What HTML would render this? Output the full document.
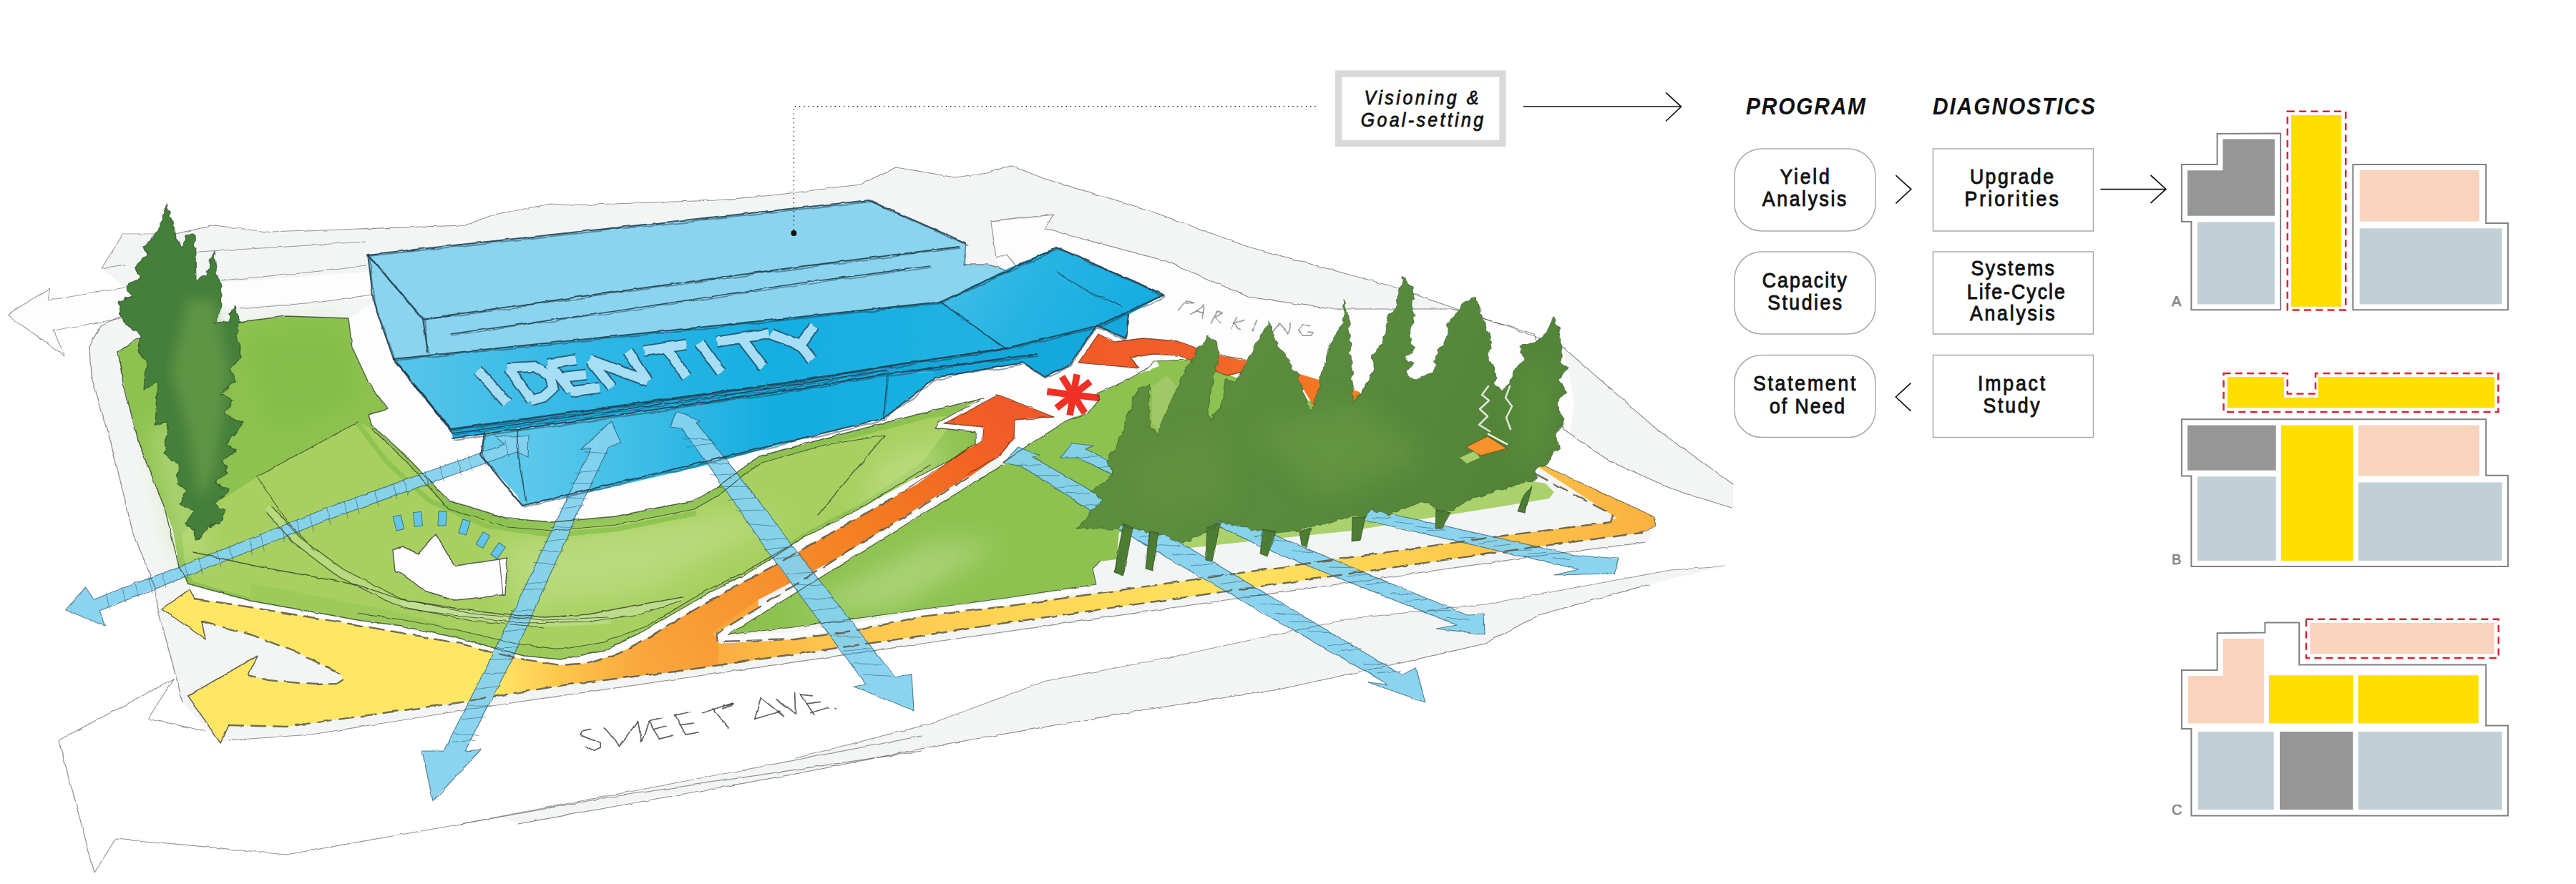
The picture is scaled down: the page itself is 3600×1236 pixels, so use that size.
<!DOCTYPE html>
<html><head><meta charset="utf-8">
<style>
html,body{margin:0;padding:0;background:#fff;}
body{width:3600px;height:1236px;overflow:hidden;font-family:"Liberation Sans",sans-serif;}
svg{display:block;position:absolute;left:0;top:0;}
text{font-family:"Liberation Sans",sans-serif;}
.lb{font-size:29px;fill:#111;stroke:#111;stroke-width:0.9;}
.hd{font-size:34px;font-weight:bold;font-style:italic;fill:#111;}
.vg{font-size:27px;font-style:italic;fill:#111;stroke:#111;stroke-width:0.8;}
.ab{font-size:20px;fill:#868686;stroke:#868686;stroke-width:0.7;}
</style></head>
<body>
<svg width="3600" height="1236" viewBox="0 0 3600 1236">
<defs>

<filter id="wob" x="-2%" y="-2%" width="104%" height="104%"><feTurbulence type="fractalNoise" baseFrequency="0.035" numOctaves="2" seed="3" result="n"/><feDisplacementMap in="SourceGraphic" in2="n" scale="5" xChannelSelector="R" yChannelSelector="G"/></filter>
<filter id="wob2" x="-2%" y="-2%" width="104%" height="104%"><feTurbulence type="fractalNoise" baseFrequency="0.06" numOctaves="2" seed="8" result="n"/><feDisplacementMap in="SourceGraphic" in2="n" scale="3.5" xChannelSelector="R" yChannelSelector="G"/></filter>
<filter id="wobT" x="-2%" y="-2%" width="104%" height="104%"><feTurbulence type="fractalNoise" baseFrequency="0.09" numOctaves="2" seed="5" result="n"/><feDisplacementMap in="SourceGraphic" in2="n" scale="9" xChannelSelector="R" yChannelSelector="G"/></filter>
<filter id="wob3" x="-2%" y="-2%" width="104%" height="104%"><feTurbulence type="fractalNoise" baseFrequency="0.03" numOctaves="2" seed="21" result="n"/><feDisplacementMap in="SourceGraphic" in2="n" scale="7" xChannelSelector="R" yChannelSelector="G"/></filter>
<filter id="soft"><feGaussianBlur stdDeviation="18"/></filter>
<filter id="soft2"><feGaussianBlur stdDeviation="8"/></filter>
<linearGradient id="gRoad" gradientUnits="userSpaceOnUse" x1="690" y1="0" x2="900" y2="0"><stop offset="0" stop-color="#ffe766"/><stop offset="0.45" stop-color="#fdc64b"/><stop offset="1" stop-color="#f9a63c"/></linearGradient>
<linearGradient id="gDiag" gradientUnits="userSpaceOnUse" x1="900" y1="920" x2="1400" y2="560"><stop offset="0" stop-color="#f9a63c"/><stop offset="0.3" stop-color="#f7922f"/><stop offset="0.6" stop-color="#f47c22"/><stop offset="0.85" stop-color="#f26522"/><stop offset="1" stop-color="#f0592a"/></linearGradient>
<linearGradient id="gRed2" gradientUnits="userSpaceOnUse" x1="1500" y1="0" x2="1920" y2="0"><stop offset="0" stop-color="#f15a29"/><stop offset="0.4" stop-color="#f1602a"/><stop offset="1" stop-color="#f58220"/></linearGradient>
<linearGradient id="gBand" gradientUnits="userSpaceOnUse" x1="1000" y1="0" x2="2320" y2="0"><stop offset="0" stop-color="#fbad3f"/><stop offset="0.1" stop-color="#fdc24a"/><stop offset="0.3" stop-color="#fed455"/><stop offset="0.55" stop-color="#ffe360"/><stop offset="0.8" stop-color="#fdc84c"/><stop offset="1" stop-color="#fbb040"/></linearGradient>
<linearGradient id="gCan" gradientUnits="userSpaceOnUse" x1="550" y1="0" x2="1320" y2="0"><stop offset="0" stop-color="#58c5ea"/><stop offset="0.35" stop-color="#30b8e6"/><stop offset="0.7" stop-color="#16aee1"/><stop offset="1" stop-color="#1eb1e2"/></linearGradient>
<linearGradient id="gWall" gradientUnits="userSpaceOnUse" x1="670" y1="0" x2="1300" y2="0"><stop offset="0" stop-color="#68ccec"/><stop offset="0.3" stop-color="#45c0e8"/><stop offset="0.65" stop-color="#15ade0"/><stop offset="1" stop-color="#18afe1"/></linearGradient>
<linearGradient id="gWing" gradientUnits="userSpaceOnUse" x1="1320" y1="330" x2="1560" y2="480"><stop offset="0" stop-color="#48c0e8"/><stop offset="0.5" stop-color="#27b4e3"/><stop offset="1" stop-color="#17ade0"/></linearGradient>
<linearGradient id="gTree" gradientUnits="userSpaceOnUse" x1="1500" y1="420" x2="2200" y2="760"><stop offset="0" stop-color="#5f8f3f"/><stop offset="0.5" stop-color="#598b3c"/><stop offset="1" stop-color="#4f8137"/></linearGradient>

</defs>
<rect width="3600" height="1236" fill="#fff"/>
<g id="sketch">
<path d="M170.0 330.0 L245.0 327.0 L300.0 315.0 L380.0 325.0 L500.0 320.0 L650.0 315.0 L690.0 300.0 L770.0 285.0 L800.0 287.0 L1000.0 280.0 L1080.0 273.0 L1202.0 258.0 L1252.0 234.0 L1334.0 248.0 L1380.0 242.0 L1412.0 231.0 L1460.0 250.0 L1600.0 292.0 L1744.0 345.0 L1944.0 400.0 L2144.0 470.0 L2184.0 485.0 L2315.0 600.0 L2422.0 677.0 L2422.0 710.0 L2340.0 685.0 L2250.0 645.0 L2185.0 600.0 L2165.0 610.0 L2149.0 647.0 L2311.0 722.0 L2314.0 735.0 L2300.0 760.0 L2144.0 780.0 L1762.0 834.0 L1412.0 884.0 L1288.0 901.0 L944.0 951.0 L689.0 986.0 L435.0 1027.0 L320.0 1035.0 L308.0 1039.0 L255.0 982.0 L245.0 942.0 L222.0 857.0 L215.0 817.0 L185.0 742.0 L170.0 680.0 L150.0 600.0 L127.0 525.0 L125.0 485.0 L140.0 455.0 L175.0 440.0 L175.0 402.0 L142.0 375.0Z" fill="#f3f5f4" />
<path d="M1112.0 1060.0 L1300.0 1012.0 L1462.0 952.0 L1612.0 924.0 L1887.0 865.0 L2075.0 845.0 L2335.0 797.0 L2410.0 792.0 L2305.0 817.0 L2150.0 860.0 L2075.0 900.0 L1957.0 927.0 L1787.0 964.0 L1602.0 992.0 L1312.0 1042.0 L1112.0 1082.0 L900.0 1120.0Z" fill="#f3f5f4" />
<path d="M724.0 1152.0 L1288.0 1042.0 L1288.0 1030.0 L700.0 1142.0Z" fill="#f3f5f4" />
<path d="M1385.0 310.0 L1472.0 300.0 L1460.0 320.0 L1630.0 365.0 L1744.0 415.0 L1860.0 432.0 L2029.0 432.0 L2144.0 467.0 L2184.0 485.0 L2200.0 560.0 L2190.0 640.0 L2149.0 647.0 L2100.0 640.0 L1500.0 600.0 L1462.0 545.0 L1392.0 360.0Z" fill="#fdfdfd" />
<path d="M175.0 402.0 L340.0 393.0 L517.0 380.0 L520.0 417.0 L340.0 428.0 L172.0 445.0Z" fill="#fdfdfd" />
<path d="M10.0 440.0 L70.0 403.0 L67.0 420.0 L175.0 402.0 L170.0 445.0 L75.0 462.0 L90.0 497.0Z" fill="#fdfdfd" />
<path d="M165.0 492.0 L190.0 475.0 L335.0 450.0 L400.0 442.0 L487.0 445.0 L492.0 485.0 L515.0 535.0 L542.0 572.0 L515.0 580.0 L520.0 595.0 L565.0 635.0 L627.0 700.0 L710.0 725.0 L772.0 730.0 L860.0 722.0 L970.0 700.0 L1000.0 683.0 L1022.0 666.0 L1061.0 638.0 L1153.0 613.0 L1230.0 593.0 L1300.0 575.0 L1375.0 556.0 L1312.0 590.0 L1307.0 598.0 L1363.0 604.0 L1363.0 621.0 L1335.0 640.0 L1280.0 668.0 L1204.0 715.0 L1122.0 757.0 L1075.0 783.0 L1040.0 804.0 L1007.0 820.0 L946.0 855.0 L895.0 885.0 L844.0 910.0 L783.0 922.0 L732.0 917.0 L691.0 906.0 L640.0 892.0 L560.0 875.0 L500.0 867.0 L350.0 840.0 L262.0 816.0 L250.0 792.0 L242.0 742.0 L230.0 710.0 L194.0 620.0 L172.0 535.0Z" fill="#8dc250" />
<path d="M359.0 667.0 L500.0 590.0 L520.0 600.0 L565.0 640.0 L627.0 712.0 L710.0 737.0 L772.0 742.0 L860.0 734.0 L970.0 712.0 L1005.0 692.0 L1030.0 672.0 L1061.0 648.0 L1153.0 622.0 L1236.0 601.0 L1300.0 584.0 L1340.0 580.0 L1290.0 645.0 L1204.0 704.0 L1122.0 746.0 L1075.0 778.0 L1040.0 800.0 L1007.0 816.0 L946.0 851.0 L895.0 881.0 L844.0 906.0 L783.0 918.0 L732.0 913.0 L691.0 902.0 L640.0 888.0 L560.0 871.0 L500.0 863.0 L350.0 836.0 L270.0 813.0 L258.0 790.0 L255.0 745.0 L300.0 705.0Z" fill="#a7d061" />
<path d="M350.0 815.0 L500.0 845.0 L560.0 856.0 L640.0 881.0 L721.0 900.0 L783.0 908.0 L844.0 898.0 L905.0 875.0 L986.0 826.0 L1040.0 800.0 L1075.0 780.0 L1075.0 783.0 L1040.0 804.0 L1007.0 820.0 L946.0 855.0 L895.0 885.0 L844.0 910.0 L783.0 922.0 L732.0 917.0 L691.0 906.0 L640.0 892.0 L560.0 875.0 L500.0 867.0 L350.0 840.0Z" fill="#9ccb5b" />
<path d="M560.0 840.0 L640.0 851.0 L701.0 859.0 L762.0 863.0 L823.0 859.0 L884.0 847.0 L954.0 835.0 L954.0 839.0 L895.0 859.0 L823.0 869.0 L732.0 871.0 L640.0 861.0 L560.0 850.0Z" fill="#bcdc8c" />
<path d="M1402.0 647.0 L1433.0 625.0 L1493.0 587.0 L1500.0 583.0 L1520.0 578.0 L1537.0 558.0 L1533.0 550.0 L1557.0 540.0 L1597.0 520.0 L1608.0 518.0 L1613.0 505.0 L1660.0 503.0 L1760.0 540.0 L2100.0 640.0 L2110.0 700.0 L1700.0 740.0 L1540.0 745.0 L1505.0 739.0 L1500.0 720.0Z" fill="#8dc250" />
<path d="M1640.0 755.0 L1655.0 767.0 L1755.0 756.0 L1890.0 742.0 L1980.0 727.0 L2124.0 704.0 L2165.0 697.0 L2172.0 688.0 L2160.0 676.0 L2124.0 670.0 L2060.0 690.0 L1900.0 715.0 L1700.0 725.0Z" fill="#aad26c" />
<path d="M1018.0 887.0 L1141.0 811.0 L1204.0 772.0 L1294.0 716.0 L1340.0 688.0 L1400.0 650.0 L1420.0 648.0 L1500.0 700.0 L1505.0 739.0 L1564.0 740.0 L1561.0 782.0 L1537.0 785.0 L1527.0 795.0 L1532.0 817.0 L1480.0 825.0 L1400.0 837.0 L1288.0 852.0 L1188.0 866.0 L1100.0 878.0Z" fill="#8dc250" />
<g filter="url(#soft)" opacity="0.6">
<path d="M700.0 760.0 L1000.0 720.0 L1100.0 720.0 L900.0 830.0 L720.0 850.0Z" fill="#c4e18d" />
<path d="M210.0 600.0 L250.0 590.0 L290.0 780.0 L250.0 780.0Z" fill="#c5e28f" />
<path d="M1100.0 860.0 L1300.0 760.0 L1400.0 760.0 L1250.0 850.0Z" fill="#bfde90" />
<path d="M340.0 470.0 L480.0 460.0 L500.0 560.0 L380.0 600.0Z" fill="#7fba47" />
<path d="M1230.0 640.0 L1330.0 610.0 L1300.0 680.0 L1200.0 720.0Z" fill="#c4e18d" />
</g>
<path d="M376.0 712.0 L415.0 756.0 L476.0 801.0 L557.0 842.0 L659.0 863.0 L760.0 872.0 L850.0 868.0" fill="none" stroke="#c6e39a" stroke-width="9" stroke-opacity="0.5" stroke-linejoin="round" stroke-linecap="round" />
<path d="M500.0 592.0 L540.0 645.0 L600.0 700.0 L680.0 735.0 L772.0 748.0 L860.0 740.0 L970.0 718.0" fill="none" stroke="#8dc250" stroke-width="7" stroke-opacity="0.9" stroke-linejoin="round" stroke-linecap="round" />
<path d="M487.0 445.0 L522.0 422.0 L550.0 502.0 L600.0 560.0 L677.0 602.0 L672.0 637.0 L722.0 692.0 L730.0 707.0 L830.0 687.0 L980.0 652.0 L1124.0 612.0 L1235.0 585.0 L1307.0 528.0 L1430.0 507.0 L1460.0 527.0 L1493.0 512.0 L1533.0 455.0 L1573.0 473.0 L1600.0 470.0 L1620.0 512.0 L1597.0 520.0 L1557.0 540.0 L1533.0 550.0 L1537.0 558.0 L1520.0 578.0 L1500.0 583.0 L1493.0 587.0 L1433.0 625.0 L1402.0 647.0 L1390.0 640.0 L1380.0 597.0 L1378.0 556.0 L1300.0 575.0 L1230.0 593.0 L1153.0 613.0 L1061.0 638.0 L1022.0 666.0 L1000.0 683.0 L970.0 700.0 L860.0 722.0 L772.0 730.0 L710.0 725.0 L627.0 700.0 L565.0 635.0 L520.0 595.0 L515.0 580.0 L542.0 572.0 L515.0 535.0 L492.0 485.0Z" fill="#fdfdfd" />
<path d="M549.0 769.0 L563.0 764.0 L584.0 775.0 L609.0 747.0 L633.0 788.0 L637.0 791.0 L698.0 782.0 L709.0 780.0 L706.0 831.0 L694.0 833.0 L637.0 839.0 L593.0 826.0 L565.0 804.0 L552.0 799.0Z" fill="#fdfdfd" />
<path d="M262.0 816.0 L350.0 840.0 L500.0 867.0 L560.0 875.0 L640.0 892.0 L691.0 906.0 L732.0 917.0 L783.0 922.0 L844.0 910.0 L895.0 885.0 L946.0 855.0 L1007.0 820.0 L1040.0 804.0 L1075.0 783.0 L1122.0 752.0 L1204.0 710.0 L1280.0 668.0 L1335.0 640.0 L1363.0 621.0 L1363.0 604.0 L1307.0 598.0 L1312.0 590.0 L1378.0 553.0 L1396.0 551.0 L1322.0 592.0 L1376.0 596.0 L1374.0 618.0 L1346.0 632.0 L1280.0 679.0 L1204.0 721.0 L1085.0 789.0 L1017.0 826.0 L956.0 861.0 L905.0 892.0 L864.0 914.0 L823.0 927.0 L783.0 930.0 L732.0 922.0 L687.0 912.0 L644.0 900.0 L500.0 874.0 L350.0 849.0 L272.0 837.0Z" fill="#fdfdfd" />
<clipPath id="cY"><path d="M226.0 851.0 L265.0 824.0 L272.0 837.0 L350.0 849.0 L500.0 874.0 L644.0 900.0 L687.0 912.0 L732.0 922.0 L783.0 930.0 L823.0 927.0 L864.0 914.0 L905.0 892.0 L956.0 861.0 L1017.0 826.0 L1085.0 789.0 L1204.0 721.0 L1255.0 692.0 L1280.0 678.0 L1346.0 631.0 L1373.0 617.0 L1375.0 597.0 L1320.0 592.0 L1395.0 552.0 L1473.0 583.0 L1418.0 587.0 L1417.0 613.0 L1397.0 637.0 L1353.0 668.0 L1280.0 713.0 L1204.0 759.0 L1092.0 830.0 L1035.0 865.0 L1000.0 885.0 L1002.0 897.0 L1007.0 900.0 L1110.0 894.0 L1204.0 880.0 L1288.0 862.0 L1412.0 847.0 L1762.0 797.0 L2094.0 750.0 L2251.0 730.0 L2254.0 720.0 L2141.0 660.0 L2149.0 647.0 L2311.0 722.0 L2314.0 735.0 L2294.0 745.0 L2144.0 765.0 L1762.0 820.0 L1412.0 870.0 L1288.0 889.0 L1094.0 917.0 L944.0 939.0 L794.0 957.0 L689.0 974.0 L644.0 982.0 L500.0 1002.0 L400.0 1016.0 L320.0 1014.0 L308.0 1039.0 L263.0 973.0 L359.0 917.0 L347.0 944.0 L375.0 951.0 L440.0 957.0 L470.0 956.0 L479.0 950.0 L475.0 942.0 L415.0 912.0 L350.0 887.0 L282.0 869.0 L287.0 894.0Z"/></clipPath>
<g clip-path="url(#cY)">
<rect x="200" y="780" width="860" height="280" fill="url(#gRoad)"/>
<path d="M905.0 1000.0 L905.0 870.0 L1000.0 815.0 L1174.0 720.0 L1380.0 520.0 L1500.0 580.0 L1400.0 660.0 L1244.0 742.0 L1059.0 839.0 L996.0 884.0 L1030.0 960.0Z" fill="url(#gDiag)" />
<path d="M996.0 884.0 L1005.0 905.0 L1000.0 960.0 L2330.0 760.0 L2330.0 640.0 L2130.0 640.0 L2260.0 725.0 L1762.0 790.0 L1412.0 840.0 L1288.0 855.0 L1144.0 880.0 L1016.0 896.0Z" fill="url(#gBand)" />
</g>
<path d="M1353.0 670.0 L1280.0 716.0 L1204.0 764.0 L1092.0 836.0 L1035.0 871.0 L1008.0 889.0 L1012.0 894.0 L1110.0 887.0 L1204.0 873.0 L1288.0 857.0 L1412.0 842.0 L1525.0 822.0" fill="none" stroke="#fdfdfd" stroke-width="7" stroke-opacity="1" stroke-linejoin="round" stroke-linecap="round" />
<path d="M1507.0 507.0 L1535.0 467.0 L1557.0 478.0 L1597.0 473.0 L1647.0 477.0 L1673.0 487.0 L1710.0 498.0 L1790.0 515.0" fill="none" stroke="#fdfdfd" stroke-width="7" stroke-opacity="1" stroke-linejoin="round" stroke-linecap="round" />
<path d="M1507.0 507.0 L1535.0 467.0 L1557.0 478.0 L1597.0 473.0 L1647.0 477.0 L1673.0 487.0 L1710.0 498.0 L1790.0 515.0 L1900.0 548.0 L1907.0 565.0 L1837.0 570.0 L1822.0 545.0 L1737.0 520.0 L1715.0 525.0 L1667.0 505.0 L1647.0 497.0 L1613.0 495.0 L1580.0 500.0 L1593.0 515.0Z" fill="url(#gRed2)" />
<path d="M2049.0 625.0 L2079.0 610.0 L2106.0 627.0 L2069.0 637.0Z" fill="#f7922d" />
<path d="M1463.3 547.5L1536.7 556.5" stroke="#ee3124" stroke-width="9.5" stroke-linecap="butt"/>
<path d="M1484.1 526.6L1515.9 577.4" stroke="#ee3124" stroke-width="9.5" stroke-linecap="butt"/>
<path d="M1505.0 523.4L1495.0 580.6" stroke="#ee3124" stroke-width="9.5" stroke-linecap="butt"/>
<path d="M1523.6 533.5L1476.4 570.5" stroke="#ee3124" stroke-width="9.5" stroke-linecap="butt"/>
<path d="M514.0 356.0 L1214.0 280.0 L1350.0 340.0 L1350.0 370.0 L1380.0 370.0 L1405.0 377.0 L1315.0 422.0 L1100.0 445.0 L550.0 502.0 L522.0 422.0Z" fill="#8ad4ef" />
<path d="M550.0 502.0 L1100.0 445.0 L1315.0 422.0 L1405.0 485.0 L1240.0 512.0 L1100.0 535.0 L630.0 600.0Z" fill="url(#gCan)" />
<path d="M630.0 600.0 L1100.0 535.0 L1240.0 512.0 L1405.0 485.0 L1450.0 495.0 L1240.0 523.0 L1100.0 546.0 L633.0 613.0Z" fill="#1ba9dc" />
<path d="M677.0 605.0 L1100.0 545.0 L1240.0 522.0 L1307.0 520.0 L1307.0 528.0 L1235.0 585.0 L1124.0 612.0 L980.0 652.0 L830.0 687.0 L730.0 707.0 L722.0 692.0 L672.0 637.0Z" fill="url(#gWall)" />
<path d="M1315.0 422.0 L1405.0 377.0 L1477.0 346.0 L1627.0 412.0 L1535.0 455.0 L1405.0 487.0Z" fill="url(#gWing)" />
<path d="M1405.0 487.0 L1535.0 455.0 L1627.0 412.0 L1577.0 440.0 L1573.0 473.0 L1533.0 455.0 L1493.0 512.0 L1460.0 527.0 L1430.0 507.0 L1307.0 528.0 L1307.0 520.0 L1240.0 522.0 L1240.0 512.0Z" fill="#14a8dc" />
<g filter="url(#wob2)">
<path d="M667.9 517.3 L708.8 564.0" fill="none" stroke="#23546b" stroke-width="16.5" stroke-opacity="0.85"  stroke-linecap="butt" stroke-linejoin="miter"/>
<path d="M710.8 514.5 L742.8 559.7" fill="none" stroke="#23546b" stroke-width="16.5" stroke-opacity="0.85"  stroke-linecap="butt" stroke-linejoin="miter"/>
<path d="M708.8 514.5 L747.0 512.5 L768.8 525.8 L773.0 542.8 L759.7 554.9 L741.4 560.3" fill="none" stroke="#23546b" stroke-width="16.5" stroke-opacity="0.85"  stroke-linecap="butt" stroke-linejoin="miter"/>
<path d="M767.4 508.8 L798.5 547.0" fill="none" stroke="#23546b" stroke-width="16.5" stroke-opacity="0.85"  stroke-linecap="butt" stroke-linejoin="miter"/>
<path d="M765.4 509.1 L805.0 502.9" fill="none" stroke="#23546b" stroke-width="16.5" stroke-opacity="0.85"  stroke-linecap="butt" stroke-linejoin="miter"/>
<path d="M783.2 527.8 L819.1 523.8" fill="none" stroke="#23546b" stroke-width="16.5" stroke-opacity="0.85"  stroke-linecap="butt" stroke-linejoin="miter"/>
<path d="M797.1 547.6 L838.1 542.2" fill="none" stroke="#23546b" stroke-width="16.5" stroke-opacity="0.85"  stroke-linecap="butt" stroke-linejoin="miter"/>
<path d="M823.9 503.2 L855.0 541.4" fill="none" stroke="#23546b" stroke-width="16.5" stroke-opacity="0.85"  stroke-linecap="butt" stroke-linejoin="miter"/>
<path d="M823.9 503.2 L905.3 532.9" fill="none" stroke="#23546b" stroke-width="16.5" stroke-opacity="0.85"  stroke-linecap="butt" stroke-linejoin="miter"/>
<path d="M877.6 491.0 L905.3 532.9" fill="none" stroke="#23546b" stroke-width="16.5" stroke-opacity="0.85"  stroke-linecap="butt" stroke-linejoin="miter"/>
<path d="M899.7 490.8 L959.6 481.7" fill="none" stroke="#23546b" stroke-width="16.5" stroke-opacity="0.85"  stroke-linecap="butt" stroke-linejoin="miter"/>
<path d="M930.8 486.2 L959.6 527.2" fill="none" stroke="#23546b" stroke-width="16.5" stroke-opacity="0.85"  stroke-linecap="butt" stroke-linejoin="miter"/>
<path d="M978.0 479.2 L1007.7 520.2" fill="none" stroke="#23546b" stroke-width="16.5" stroke-opacity="0.85"  stroke-linecap="butt" stroke-linejoin="miter"/>
<path d="M1001.5 478.0 L1075.5 466.4" fill="none" stroke="#23546b" stroke-width="16.5" stroke-opacity="0.85"  stroke-linecap="butt" stroke-linejoin="miter"/>
<path d="M1036.0 472.9 L1067.1 513.1" fill="none" stroke="#23546b" stroke-width="16.5" stroke-opacity="0.85"  stroke-linecap="butt" stroke-linejoin="miter"/>
<path d="M1077.8 467.0 L1118.0 482.6" fill="none" stroke="#23546b" stroke-width="16.5" stroke-opacity="0.85"  stroke-linecap="butt" stroke-linejoin="miter"/>
<path d="M1137.7 455.1 L1118.0 482.6" fill="none" stroke="#23546b" stroke-width="16.5" stroke-opacity="0.85"  stroke-linecap="butt" stroke-linejoin="miter"/>
<path d="M1118.0 482.0 L1134.9 503.2" fill="none" stroke="#23546b" stroke-width="16.5" stroke-opacity="0.85"  stroke-linecap="butt" stroke-linejoin="miter"/>
<path d="M667.9 517.3 L708.8 564.0" fill="none" stroke="#a6dff5" stroke-width="12.5" stroke-opacity="1"  stroke-linecap="butt" stroke-linejoin="miter"/>
<path d="M710.8 514.5 L742.8 559.7" fill="none" stroke="#a6dff5" stroke-width="12.5" stroke-opacity="1"  stroke-linecap="butt" stroke-linejoin="miter"/>
<path d="M708.8 514.5 L747.0 512.5 L768.8 525.8 L773.0 542.8 L759.7 554.9 L741.4 560.3" fill="none" stroke="#a6dff5" stroke-width="12.5" stroke-opacity="1"  stroke-linecap="butt" stroke-linejoin="miter"/>
<path d="M767.4 508.8 L798.5 547.0" fill="none" stroke="#a6dff5" stroke-width="12.5" stroke-opacity="1"  stroke-linecap="butt" stroke-linejoin="miter"/>
<path d="M765.4 509.1 L805.0 502.9" fill="none" stroke="#a6dff5" stroke-width="12.5" stroke-opacity="1"  stroke-linecap="butt" stroke-linejoin="miter"/>
<path d="M783.2 527.8 L819.1 523.8" fill="none" stroke="#a6dff5" stroke-width="12.5" stroke-opacity="1"  stroke-linecap="butt" stroke-linejoin="miter"/>
<path d="M797.1 547.6 L838.1 542.2" fill="none" stroke="#a6dff5" stroke-width="12.5" stroke-opacity="1"  stroke-linecap="butt" stroke-linejoin="miter"/>
<path d="M823.9 503.2 L855.0 541.4" fill="none" stroke="#a6dff5" stroke-width="12.5" stroke-opacity="1"  stroke-linecap="butt" stroke-linejoin="miter"/>
<path d="M823.9 503.2 L905.3 532.9" fill="none" stroke="#a6dff5" stroke-width="12.5" stroke-opacity="1"  stroke-linecap="butt" stroke-linejoin="miter"/>
<path d="M877.6 491.0 L905.3 532.9" fill="none" stroke="#a6dff5" stroke-width="12.5" stroke-opacity="1"  stroke-linecap="butt" stroke-linejoin="miter"/>
<path d="M899.7 490.8 L959.6 481.7" fill="none" stroke="#a6dff5" stroke-width="12.5" stroke-opacity="1"  stroke-linecap="butt" stroke-linejoin="miter"/>
<path d="M930.8 486.2 L959.6 527.2" fill="none" stroke="#a6dff5" stroke-width="12.5" stroke-opacity="1"  stroke-linecap="butt" stroke-linejoin="miter"/>
<path d="M978.0 479.2 L1007.7 520.2" fill="none" stroke="#a6dff5" stroke-width="12.5" stroke-opacity="1"  stroke-linecap="butt" stroke-linejoin="miter"/>
<path d="M1001.5 478.0 L1075.5 466.4" fill="none" stroke="#a6dff5" stroke-width="12.5" stroke-opacity="1"  stroke-linecap="butt" stroke-linejoin="miter"/>
<path d="M1036.0 472.9 L1067.1 513.1" fill="none" stroke="#a6dff5" stroke-width="12.5" stroke-opacity="1"  stroke-linecap="butt" stroke-linejoin="miter"/>
<path d="M1077.8 467.0 L1118.0 482.6" fill="none" stroke="#a6dff5" stroke-width="12.5" stroke-opacity="1"  stroke-linecap="butt" stroke-linejoin="miter"/>
<path d="M1137.7 455.1 L1118.0 482.6" fill="none" stroke="#a6dff5" stroke-width="12.5" stroke-opacity="1"  stroke-linecap="butt" stroke-linejoin="miter"/>
<path d="M1118.0 482.0 L1134.9 503.2" fill="none" stroke="#a6dff5" stroke-width="12.5" stroke-opacity="1"  stroke-linecap="butt" stroke-linejoin="miter"/>
</g>
<path d="M131.0 838.0 L270.0 785.0 L460.0 709.0 L672.0 633.0 L705.0 621.0 L692.0 610.0 L719.0 611.0 L739.0 609.0 L738.0 639.0 L722.0 632.0 L672.0 650.0 L460.0 726.0 L270.0 802.0 L139.0 854.0 L146.5 875.0 L92.7 853.0 L119.6 821.0Z" fill="#84d2ef" fill-opacity="0.95"/>
<path d="M853.8 589.0 L867.4 618.0 L850.0 627.0 L815.0 700.0 L716.0 921.0 L650.0 1050.0 L672.0 1048.0 L605.0 1120.0 L590.0 1050.0 L620.0 1050.0 L686.0 921.0 L791.0 700.0 L826.0 627.0 L812.8 628.3Z" fill="#84d2ef" fill-opacity="0.95"/>
<path d="M946.0 575.0 L978.0 589.0 L973.0 591.0 L1060.7 700.0 L1104.0 759.0 L1251.0 947.0 L1274.0 942.0 L1277.0 993.0 L1193.0 960.0 L1210.0 957.0 L1068.0 764.0 L1024.6 700.0 L953.0 599.0 L937.0 597.0Z" fill="#84d2ef" fill-opacity="0.95"/>
<path d="M1423.0 625.0 L1453.0 637.0 L1443.0 639.0 L1620.0 741.0 L1960.0 944.0 L1979.0 934.0 L1992.0 982.0 L1912.0 954.0 L1940.0 957.0 L1600.0 762.0 L1428.0 652.0 L1402.0 647.0Z" fill="#84d2ef" fill-opacity="0.95"/>
<path d="M1497.0 620.0 L1528.0 623.0 L1516.0 628.0 L1790.0 752.0 L2050.0 860.0 L2074.0 859.0 L2075.0 887.0 L2007.0 879.0 L2036.0 874.0 L1770.0 768.0 L1506.0 640.0 L1483.0 640.0Z" fill="#84d2ef" fill-opacity="0.95"/>
<path d="M1915.0 712.0 L2200.0 776.0 L2262.0 781.0 L2256.0 802.0 L2172.0 804.0 L2206.0 796.0 L1907.0 727.0Z" fill="#84d2ef" fill-opacity="0.95"/>
<g filter="url(#wob2)">
<path d="M131.0 838.0 L270.0 785.0 L460.0 709.0 L672.0 633.0 L705.0 621.0 L692.0 610.0 L719.0 611.0 L739.0 609.0 L738.0 639.0 L722.0 632.0 L672.0 650.0 L460.0 726.0 L270.0 802.0 L139.0 854.0 L146.5 875.0 L92.7 853.0 L119.6 821.0Z" fill="none" stroke="#2c5566" stroke-width="1.2" stroke-opacity="0.7" stroke-linejoin="round" stroke-linecap="round" />
<path d="M853.8 589.0 L867.4 618.0 L850.0 627.0 L815.0 700.0 L716.0 921.0 L650.0 1050.0 L672.0 1048.0 L605.0 1120.0 L590.0 1050.0 L620.0 1050.0 L686.0 921.0 L791.0 700.0 L826.0 627.0 L812.8 628.3Z" fill="none" stroke="#2c5566" stroke-width="1.2" stroke-opacity="0.7" stroke-linejoin="round" stroke-linecap="round" />
<path d="M946.0 575.0 L978.0 589.0 L973.0 591.0 L1060.7 700.0 L1104.0 759.0 L1251.0 947.0 L1274.0 942.0 L1277.0 993.0 L1193.0 960.0 L1210.0 957.0 L1068.0 764.0 L1024.6 700.0 L953.0 599.0 L937.0 597.0Z" fill="none" stroke="#2c5566" stroke-width="1.2" stroke-opacity="0.7" stroke-linejoin="round" stroke-linecap="round" />
<path d="M1423.0 625.0 L1453.0 637.0 L1443.0 639.0 L1620.0 741.0 L1960.0 944.0 L1979.0 934.0 L1992.0 982.0 L1912.0 954.0 L1940.0 957.0 L1600.0 762.0 L1428.0 652.0 L1402.0 647.0Z" fill="none" stroke="#2c5566" stroke-width="1.2" stroke-opacity="0.7" stroke-linejoin="round" stroke-linecap="round" />
<path d="M1497.0 620.0 L1528.0 623.0 L1516.0 628.0 L1790.0 752.0 L2050.0 860.0 L2074.0 859.0 L2075.0 887.0 L2007.0 879.0 L2036.0 874.0 L1770.0 768.0 L1506.0 640.0 L1483.0 640.0Z" fill="none" stroke="#2c5566" stroke-width="1.2" stroke-opacity="0.7" stroke-linejoin="round" stroke-linecap="round" />
<path d="M1915.0 712.0 L2200.0 776.0 L2262.0 781.0 L2256.0 802.0 L2172.0 804.0 L2206.0 796.0 L1907.0 727.0Z" fill="none" stroke="#2c5566" stroke-width="1.2" stroke-opacity="0.7" stroke-linejoin="round" stroke-linecap="round" />
<path d="M817.0 631.8 L850.0 633.8" fill="none" stroke="#2c5566" stroke-width="1" stroke-opacity="0.55" stroke-linejoin="round" stroke-linecap="round" />
<path d="M804.8 660.7 L837.8 657.9" fill="none" stroke="#2c5566" stroke-width="1" stroke-opacity="0.55" stroke-linejoin="round" stroke-linecap="round" />
<path d="M797.4 676.0 L830.4 674.8" fill="none" stroke="#2c5566" stroke-width="1" stroke-opacity="0.55" stroke-linejoin="round" stroke-linecap="round" />
<path d="M787.7 695.7 L820.7 697.2" fill="none" stroke="#2c5566" stroke-width="1" stroke-opacity="0.55" stroke-linejoin="round" stroke-linecap="round" />
<path d="M781.8 711.5 L814.8 707.0" fill="none" stroke="#2c5566" stroke-width="1" stroke-opacity="0.55" stroke-linejoin="round" stroke-linecap="round" />
<path d="M769.0 737.7 L802.0 736.4" fill="none" stroke="#2c5566" stroke-width="1" stroke-opacity="0.55" stroke-linejoin="round" stroke-linecap="round" />
<path d="M760.5 757.8 L793.5 753.0" fill="none" stroke="#2c5566" stroke-width="1" stroke-opacity="0.55" stroke-linejoin="round" stroke-linecap="round" />
<path d="M753.3 770.5 L786.3 771.5" fill="none" stroke="#2c5566" stroke-width="1" stroke-opacity="0.55" stroke-linejoin="round" stroke-linecap="round" />
<path d="M745.6 786.3 L778.6 789.1" fill="none" stroke="#2c5566" stroke-width="1" stroke-opacity="0.55" stroke-linejoin="round" stroke-linecap="round" />
<path d="M733.2 817.0 L766.2 812.4" fill="none" stroke="#2c5566" stroke-width="1" stroke-opacity="0.55" stroke-linejoin="round" stroke-linecap="round" />
<path d="M729.0 824.1 L762.0 823.6" fill="none" stroke="#2c5566" stroke-width="1" stroke-opacity="0.55" stroke-linejoin="round" stroke-linecap="round" />
<path d="M715.2 854.5 L748.2 852.7" fill="none" stroke="#2c5566" stroke-width="1" stroke-opacity="0.55" stroke-linejoin="round" stroke-linecap="round" />
<path d="M710.2 865.2 L743.2 863.8" fill="none" stroke="#2c5566" stroke-width="1" stroke-opacity="0.55" stroke-linejoin="round" stroke-linecap="round" />
<path d="M702.3 883.1 L735.3 880.0" fill="none" stroke="#2c5566" stroke-width="1" stroke-opacity="0.55" stroke-linejoin="round" stroke-linecap="round" />
<path d="M691.3 905.9 L724.3 905.1" fill="none" stroke="#2c5566" stroke-width="1" stroke-opacity="0.55" stroke-linejoin="round" stroke-linecap="round" />
<path d="M683.5 923.8 L716.5 920.9" fill="none" stroke="#2c5566" stroke-width="1" stroke-opacity="0.55" stroke-linejoin="round" stroke-linecap="round" />
<path d="M674.7 942.0 L707.7 940.8" fill="none" stroke="#2c5566" stroke-width="1" stroke-opacity="0.55" stroke-linejoin="round" stroke-linecap="round" />
<path d="M665.5 963.8 L698.5 959.1" fill="none" stroke="#2c5566" stroke-width="1" stroke-opacity="0.55" stroke-linejoin="round" stroke-linecap="round" />
<path d="M653.7 987.2 L686.7 986.8" fill="none" stroke="#2c5566" stroke-width="1" stroke-opacity="0.55" stroke-linejoin="round" stroke-linecap="round" />
<path d="M645.9 1005.7 L678.9 1002.3" fill="none" stroke="#2c5566" stroke-width="1" stroke-opacity="0.55" stroke-linejoin="round" stroke-linecap="round" />
<path d="M635.2 1026.2 L668.2 1028.3" fill="none" stroke="#2c5566" stroke-width="1" stroke-opacity="0.55" stroke-linejoin="round" stroke-linecap="round" />
<path d="M630.9 1037.5 L663.9 1035.3" fill="none" stroke="#2c5566" stroke-width="1" stroke-opacity="0.55" stroke-linejoin="round" stroke-linecap="round" />
<path d="M953.8 612.7 L992.8 615.3" fill="none" stroke="#2c5566" stroke-width="1" stroke-opacity="0.55" stroke-linejoin="round" stroke-linecap="round" />
<path d="M960.0 624.2 L999.0 619.9" fill="none" stroke="#2c5566" stroke-width="1" stroke-opacity="0.55" stroke-linejoin="round" stroke-linecap="round" />
<path d="M979.6 647.3 L1018.6 648.2" fill="none" stroke="#2c5566" stroke-width="1" stroke-opacity="0.55" stroke-linejoin="round" stroke-linecap="round" />
<path d="M991.6 664.8 L1030.6 662.3" fill="none" stroke="#2c5566" stroke-width="1" stroke-opacity="0.55" stroke-linejoin="round" stroke-linecap="round" />
<path d="M1004.4 680.4 L1043.4 680.3" fill="none" stroke="#2c5566" stroke-width="1" stroke-opacity="0.55" stroke-linejoin="round" stroke-linecap="round" />
<path d="M1017.6 699.4 L1056.6 695.7" fill="none" stroke="#2c5566" stroke-width="1" stroke-opacity="0.55" stroke-linejoin="round" stroke-linecap="round" />
<path d="M1029.7 714.4 L1068.7 712.6" fill="none" stroke="#2c5566" stroke-width="1" stroke-opacity="0.55" stroke-linejoin="round" stroke-linecap="round" />
<path d="M1045.4 732.6 L1084.4 735.6" fill="none" stroke="#2c5566" stroke-width="1" stroke-opacity="0.55" stroke-linejoin="round" stroke-linecap="round" />
<path d="M1060.6 754.3 L1099.6 753.6" fill="none" stroke="#2c5566" stroke-width="1" stroke-opacity="0.55" stroke-linejoin="round" stroke-linecap="round" />
<path d="M1069.9 767.6 L1108.9 764.7" fill="none" stroke="#2c5566" stroke-width="1" stroke-opacity="0.55" stroke-linejoin="round" stroke-linecap="round" />
<path d="M1080.0 781.7 L1119.0 777.0" fill="none" stroke="#2c5566" stroke-width="1" stroke-opacity="0.55" stroke-linejoin="round" stroke-linecap="round" />
<path d="M1096.7 802.6 L1135.7 800.2" fill="none" stroke="#2c5566" stroke-width="1" stroke-opacity="0.55" stroke-linejoin="round" stroke-linecap="round" />
<path d="M1109.4 816.9 L1148.4 819.1" fill="none" stroke="#2c5566" stroke-width="1" stroke-opacity="0.55" stroke-linejoin="round" stroke-linecap="round" />
<path d="M1123.9 837.3 L1162.9 836.8" fill="none" stroke="#2c5566" stroke-width="1" stroke-opacity="0.55" stroke-linejoin="round" stroke-linecap="round" />
<path d="M1135.0 853.9 L1174.0 849.1" fill="none" stroke="#2c5566" stroke-width="1" stroke-opacity="0.55" stroke-linejoin="round" stroke-linecap="round" />
<path d="M1149.0 871.8 L1188.0 868.0" fill="none" stroke="#2c5566" stroke-width="1" stroke-opacity="0.55" stroke-linejoin="round" stroke-linecap="round" />
<path d="M1163.9 887.8 L1202.9 890.9" fill="none" stroke="#2c5566" stroke-width="1" stroke-opacity="0.55" stroke-linejoin="round" stroke-linecap="round" />
<path d="M1178.5 910.3 L1217.5 906.8" fill="none" stroke="#2c5566" stroke-width="1" stroke-opacity="0.55" stroke-linejoin="round" stroke-linecap="round" />
<path d="M1193.6 927.7 L1232.6 929.1" fill="none" stroke="#2c5566" stroke-width="1" stroke-opacity="0.55" stroke-linejoin="round" stroke-linecap="round" />
<path d="M1205.7 943.1 L1244.7 945.3" fill="none" stroke="#2c5566" stroke-width="1" stroke-opacity="0.55" stroke-linejoin="round" stroke-linecap="round" />
<path d="M1421.6 650.3 L1454.6 649.9" fill="none" stroke="#2c5566" stroke-width="1" stroke-opacity="0.55" stroke-linejoin="round" stroke-linecap="round" />
<path d="M1447.1 664.8 L1480.1 664.8" fill="none" stroke="#2c5566" stroke-width="1" stroke-opacity="0.55" stroke-linejoin="round" stroke-linecap="round" />
<path d="M1474.4 682.7 L1507.4 678.4" fill="none" stroke="#2c5566" stroke-width="1" stroke-opacity="0.55" stroke-linejoin="round" stroke-linecap="round" />
<path d="M1489.3 688.2 L1522.3 690.1" fill="none" stroke="#2c5566" stroke-width="1" stroke-opacity="0.55" stroke-linejoin="round" stroke-linecap="round" />
<path d="M1516.5 706.3 L1549.5 703.3" fill="none" stroke="#2c5566" stroke-width="1" stroke-opacity="0.55" stroke-linejoin="round" stroke-linecap="round" />
<path d="M1550.5 725.0 L1583.5 723.9" fill="none" stroke="#2c5566" stroke-width="1" stroke-opacity="0.55" stroke-linejoin="round" stroke-linecap="round" />
<path d="M1571.9 737.3 L1604.9 736.3" fill="none" stroke="#2c5566" stroke-width="1" stroke-opacity="0.55" stroke-linejoin="round" stroke-linecap="round" />
<path d="M1592.7 750.6 L1625.7 747.0" fill="none" stroke="#2c5566" stroke-width="1" stroke-opacity="0.55" stroke-linejoin="round" stroke-linecap="round" />
<path d="M1616.3 761.4 L1649.3 763.5" fill="none" stroke="#2c5566" stroke-width="1" stroke-opacity="0.55" stroke-linejoin="round" stroke-linecap="round" />
<path d="M1638.4 774.6 L1671.4 775.7" fill="none" stroke="#2c5566" stroke-width="1" stroke-opacity="0.55" stroke-linejoin="round" stroke-linecap="round" />
<path d="M1664.1 792.2 L1697.1 787.8" fill="none" stroke="#2c5566" stroke-width="1" stroke-opacity="0.55" stroke-linejoin="round" stroke-linecap="round" />
<path d="M1689.0 804.4 L1722.0 804.3" fill="none" stroke="#2c5566" stroke-width="1" stroke-opacity="0.55" stroke-linejoin="round" stroke-linecap="round" />
<path d="M1706.1 816.5 L1739.1 812.0" fill="none" stroke="#2c5566" stroke-width="1" stroke-opacity="0.55" stroke-linejoin="round" stroke-linecap="round" />
<path d="M1737.8 833.0 L1770.8 832.0" fill="none" stroke="#2c5566" stroke-width="1" stroke-opacity="0.55" stroke-linejoin="round" stroke-linecap="round" />
<path d="M1759.3 843.8 L1792.3 846.0" fill="none" stroke="#2c5566" stroke-width="1" stroke-opacity="0.55" stroke-linejoin="round" stroke-linecap="round" />
<path d="M1782.9 857.3 L1815.9 859.8" fill="none" stroke="#2c5566" stroke-width="1" stroke-opacity="0.55" stroke-linejoin="round" stroke-linecap="round" />
<path d="M1802.0 868.8 L1835.0 870.3" fill="none" stroke="#2c5566" stroke-width="1" stroke-opacity="0.55" stroke-linejoin="round" stroke-linecap="round" />
<path d="M1826.4 882.3 L1859.4 884.9" fill="none" stroke="#2c5566" stroke-width="1" stroke-opacity="0.55" stroke-linejoin="round" stroke-linecap="round" />
<path d="M1856.1 902.8 L1889.1 898.8" fill="none" stroke="#2c5566" stroke-width="1" stroke-opacity="0.55" stroke-linejoin="round" stroke-linecap="round" />
<path d="M1869.2 909.9 L1902.2 906.8" fill="none" stroke="#2c5566" stroke-width="1" stroke-opacity="0.55" stroke-linejoin="round" stroke-linecap="round" />
<path d="M1904.6 929.4 L1937.6 928.1" fill="none" stroke="#2c5566" stroke-width="1" stroke-opacity="0.55" stroke-linejoin="round" stroke-linecap="round" />
<path d="M1923.5 940.8 L1956.5 938.4" fill="none" stroke="#2c5566" stroke-width="1" stroke-opacity="0.55" stroke-linejoin="round" stroke-linecap="round" />
<path d="M1504.1 641.3 L1534.1 637.4" fill="none" stroke="#2c5566" stroke-width="1" stroke-opacity="0.55" stroke-linejoin="round" stroke-linecap="round" />
<path d="M1533.5 653.9 L1563.5 650.4" fill="none" stroke="#2c5566" stroke-width="1" stroke-opacity="0.55" stroke-linejoin="round" stroke-linecap="round" />
<path d="M1554.9 662.2 L1584.9 660.7" fill="none" stroke="#2c5566" stroke-width="1" stroke-opacity="0.55" stroke-linejoin="round" stroke-linecap="round" />
<path d="M1595.3 678.2 L1625.3 679.9" fill="none" stroke="#2c5566" stroke-width="1" stroke-opacity="0.55" stroke-linejoin="round" stroke-linecap="round" />
<path d="M1619.6 691.1 L1649.6 688.2" fill="none" stroke="#2c5566" stroke-width="1" stroke-opacity="0.55" stroke-linejoin="round" stroke-linecap="round" />
<path d="M1642.7 701.0 L1672.7 698.4" fill="none" stroke="#2c5566" stroke-width="1" stroke-opacity="0.55" stroke-linejoin="round" stroke-linecap="round" />
<path d="M1663.6 710.8 L1693.6 706.9" fill="none" stroke="#2c5566" stroke-width="1" stroke-opacity="0.55" stroke-linejoin="round" stroke-linecap="round" />
<path d="M1691.0 719.4 L1721.0 722.1" fill="none" stroke="#2c5566" stroke-width="1" stroke-opacity="0.55" stroke-linejoin="round" stroke-linecap="round" />
<path d="M1727.7 735.8 L1757.7 737.6" fill="none" stroke="#2c5566" stroke-width="1" stroke-opacity="0.55" stroke-linejoin="round" stroke-linecap="round" />
<path d="M1753.9 749.8 L1783.9 746.5" fill="none" stroke="#2c5566" stroke-width="1" stroke-opacity="0.55" stroke-linejoin="round" stroke-linecap="round" />
<path d="M1772.8 756.2 L1802.8 756.5" fill="none" stroke="#2c5566" stroke-width="1" stroke-opacity="0.55" stroke-linejoin="round" stroke-linecap="round" />
<path d="M1806.3 769.9 L1836.3 772.0" fill="none" stroke="#2c5566" stroke-width="1" stroke-opacity="0.55" stroke-linejoin="round" stroke-linecap="round" />
<path d="M1835.5 785.7 L1865.5 781.6" fill="none" stroke="#2c5566" stroke-width="1" stroke-opacity="0.55" stroke-linejoin="round" stroke-linecap="round" />
<path d="M1857.8 793.1 L1887.8 793.7" fill="none" stroke="#2c5566" stroke-width="1" stroke-opacity="0.55" stroke-linejoin="round" stroke-linecap="round" />
<path d="M1883.0 806.0 L1913.0 802.7" fill="none" stroke="#2c5566" stroke-width="1" stroke-opacity="0.55" stroke-linejoin="round" stroke-linecap="round" />
<path d="M1909.2 817.8 L1939.2 813.7" fill="none" stroke="#2c5566" stroke-width="1" stroke-opacity="0.55" stroke-linejoin="round" stroke-linecap="round" />
<path d="M1943.4 829.6 L1973.4 831.7" fill="none" stroke="#2c5566" stroke-width="1" stroke-opacity="0.55" stroke-linejoin="round" stroke-linecap="round" />
<path d="M1963.9 840.8 L1993.9 838.4" fill="none" stroke="#2c5566" stroke-width="1" stroke-opacity="0.55" stroke-linejoin="round" stroke-linecap="round" />
<path d="M1996.4 853.8 L2026.4 853.7" fill="none" stroke="#2c5566" stroke-width="1" stroke-opacity="0.55" stroke-linejoin="round" stroke-linecap="round" />
<path d="M2022.8 864.2 L2052.8 866.2" fill="none" stroke="#2c5566" stroke-width="1" stroke-opacity="0.55" stroke-linejoin="round" stroke-linecap="round" />
<path d="M1919.4 723.4 L1943.4 724.7" fill="none" stroke="#2c5566" stroke-width="1" stroke-opacity="0.55" stroke-linejoin="round" stroke-linecap="round" />
<path d="M1950.8 729.7 L1974.8 732.7" fill="none" stroke="#2c5566" stroke-width="1" stroke-opacity="0.55" stroke-linejoin="round" stroke-linecap="round" />
<path d="M1978.4 736.1 L2002.4 738.9" fill="none" stroke="#2c5566" stroke-width="1" stroke-opacity="0.55" stroke-linejoin="round" stroke-linecap="round" />
<path d="M1994.7 741.7 L2018.7 740.8" fill="none" stroke="#2c5566" stroke-width="1" stroke-opacity="0.55" stroke-linejoin="round" stroke-linecap="round" />
<path d="M2038.8 751.0 L2062.8 751.6" fill="none" stroke="#2c5566" stroke-width="1" stroke-opacity="0.55" stroke-linejoin="round" stroke-linecap="round" />
<path d="M2066.6 759.5 L2090.6 755.8" fill="none" stroke="#2c5566" stroke-width="1" stroke-opacity="0.55" stroke-linejoin="round" stroke-linecap="round" />
<path d="M2087.7 763.7 L2111.7 761.1" fill="none" stroke="#2c5566" stroke-width="1" stroke-opacity="0.55" stroke-linejoin="round" stroke-linecap="round" />
<path d="M2117.5 769.2 L2141.5 769.2" fill="none" stroke="#2c5566" stroke-width="1" stroke-opacity="0.55" stroke-linejoin="round" stroke-linecap="round" />
<path d="M2136.9 775.1 L2160.9 772.2" fill="none" stroke="#2c5566" stroke-width="1" stroke-opacity="0.55" stroke-linejoin="round" stroke-linecap="round" />
<path d="M2170.0 779.8 L2194.0 782.6" fill="none" stroke="#2c5566" stroke-width="1" stroke-opacity="0.55" stroke-linejoin="round" stroke-linecap="round" />
<path d="M148.1 829.1 L153.1 851.5" fill="none" stroke="#2c5566" stroke-width="1" stroke-opacity="0.55" stroke-linejoin="round" stroke-linecap="round" />
<path d="M170.8 820.4 L175.8 842.8" fill="none" stroke="#2c5566" stroke-width="1" stroke-opacity="0.55" stroke-linejoin="round" stroke-linecap="round" />
<path d="M188.6 813.6 L193.6 836.0" fill="none" stroke="#2c5566" stroke-width="1" stroke-opacity="0.55" stroke-linejoin="round" stroke-linecap="round" />
<path d="M207.9 806.3 L212.9 828.7" fill="none" stroke="#2c5566" stroke-width="1" stroke-opacity="0.55" stroke-linejoin="round" stroke-linecap="round" />
<path d="M226.7 799.1 L231.7 821.5" fill="none" stroke="#2c5566" stroke-width="1" stroke-opacity="0.55" stroke-linejoin="round" stroke-linecap="round" />
<path d="M257.9 787.2 L262.9 809.6" fill="none" stroke="#2c5566" stroke-width="1" stroke-opacity="0.55" stroke-linejoin="round" stroke-linecap="round" />
<path d="M277.6 779.7 L282.6 802.1" fill="none" stroke="#2c5566" stroke-width="1" stroke-opacity="0.55" stroke-linejoin="round" stroke-linecap="round" />
<path d="M303.8 769.7 L308.8 792.1" fill="none" stroke="#2c5566" stroke-width="1" stroke-opacity="0.55" stroke-linejoin="round" stroke-linecap="round" />
<path d="M320.9 763.2 L325.9 785.6" fill="none" stroke="#2c5566" stroke-width="1" stroke-opacity="0.55" stroke-linejoin="round" stroke-linecap="round" />
<path d="M348.5 752.7 L353.5 775.1" fill="none" stroke="#2c5566" stroke-width="1" stroke-opacity="0.55" stroke-linejoin="round" stroke-linecap="round" />
<path d="M364.2 746.7 L369.2 769.1" fill="none" stroke="#2c5566" stroke-width="1" stroke-opacity="0.55" stroke-linejoin="round" stroke-linecap="round" />
<path d="M393.6 735.5 L398.6 757.9" fill="none" stroke="#2c5566" stroke-width="1" stroke-opacity="0.55" stroke-linejoin="round" stroke-linecap="round" />
<path d="M414.9 727.4 L419.9 749.8" fill="none" stroke="#2c5566" stroke-width="1" stroke-opacity="0.55" stroke-linejoin="round" stroke-linecap="round" />
<path d="M433.0 720.5 L438.0 742.9" fill="none" stroke="#2c5566" stroke-width="1" stroke-opacity="0.55" stroke-linejoin="round" stroke-linecap="round" />
<path d="M457.0 711.4 L462.0 733.8" fill="none" stroke="#2c5566" stroke-width="1" stroke-opacity="0.55" stroke-linejoin="round" stroke-linecap="round" />
<path d="M481.2 702.1 L486.2 724.5" fill="none" stroke="#2c5566" stroke-width="1" stroke-opacity="0.55" stroke-linejoin="round" stroke-linecap="round" />
<path d="M497.0 696.1 L502.0 718.5" fill="none" stroke="#2c5566" stroke-width="1" stroke-opacity="0.55" stroke-linejoin="round" stroke-linecap="round" />
<path d="M524.1 685.8 L529.1 708.2" fill="none" stroke="#2c5566" stroke-width="1" stroke-opacity="0.55" stroke-linejoin="round" stroke-linecap="round" />
<path d="M549.8 676.0 L554.8 698.4" fill="none" stroke="#2c5566" stroke-width="1" stroke-opacity="0.55" stroke-linejoin="round" stroke-linecap="round" />
<path d="M564.9 670.2 L569.9 692.6" fill="none" stroke="#2c5566" stroke-width="1" stroke-opacity="0.55" stroke-linejoin="round" stroke-linecap="round" />
<path d="M594.4 659.0 L599.4 681.4" fill="none" stroke="#2c5566" stroke-width="1" stroke-opacity="0.55" stroke-linejoin="round" stroke-linecap="round" />
<path d="M615.1 651.1 L620.1 673.5" fill="none" stroke="#2c5566" stroke-width="1" stroke-opacity="0.55" stroke-linejoin="round" stroke-linecap="round" />
<path d="M639.5 641.8 L644.5 664.2" fill="none" stroke="#2c5566" stroke-width="1" stroke-opacity="0.55" stroke-linejoin="round" stroke-linecap="round" />
<path d="M655.0 635.9 L660.0 658.3" fill="none" stroke="#2c5566" stroke-width="1" stroke-opacity="0.55" stroke-linejoin="round" stroke-linecap="round" />
<path d="M674.1 628.6 L679.1 651.0" fill="none" stroke="#2c5566" stroke-width="1" stroke-opacity="0.55" stroke-linejoin="round" stroke-linecap="round" />
<path d="M705.9 616.5 L710.9 638.9" fill="none" stroke="#2c5566" stroke-width="1" stroke-opacity="0.55" stroke-linejoin="round" stroke-linecap="round" />
</g>
<rect x="551.5" y="721" width="11" height="20" fill="#62c5ec" stroke="#2c4d5c" stroke-width="1" stroke-opacity="0.7" transform="rotate(-14 557 731)"/>
<rect x="578.5" y="716" width="11" height="20" fill="#62c5ec" stroke="#2c4d5c" stroke-width="1" stroke-opacity="0.7" transform="rotate(-6 584 726)"/>
<rect x="612.5" y="715" width="11" height="20" fill="#62c5ec" stroke="#2c4d5c" stroke-width="1" stroke-opacity="0.7" transform="rotate(3 618 725)"/>
<rect x="643.5" y="727" width="11" height="20" fill="#62c5ec" stroke="#2c4d5c" stroke-width="1" stroke-opacity="0.7" transform="rotate(17 649 737)"/>
<rect x="669.5" y="745" width="11" height="20" fill="#62c5ec" stroke="#2c4d5c" stroke-width="1" stroke-opacity="0.7" transform="rotate(30 675 755)"/>
<rect x="690.5" y="760" width="11" height="20" fill="#62c5ec" stroke="#2c4d5c" stroke-width="1" stroke-opacity="0.7" transform="rotate(36 696 770)"/>
<g filter="url(#wob2)">
<path d="M514.0 356.0 L1214.0 280.0 L1350.0 340.0" fill="none" stroke="#1d3a48" stroke-width="2.0" stroke-opacity="0.85" stroke-linejoin="round" stroke-linecap="round" />
<path d="M514.0 356.0 L591.0 446.0 L598.0 492.0" fill="none" stroke="#1d3a48" stroke-width="2.0" stroke-opacity="0.85" stroke-linejoin="round" stroke-linecap="round" />
<path d="M514.0 356.0 L522.0 422.0 L550.0 502.0" fill="none" stroke="#1d3a48" stroke-width="2.0" stroke-opacity="0.85" stroke-linejoin="round" stroke-linecap="round" />
<path d="M591.0 446.0 L830.0 412.0 L1124.0 372.0 L1340.0 345.0" fill="none" stroke="#1d3a48" stroke-width="1.9" stroke-opacity="0.85" stroke-linejoin="round" stroke-linecap="round" />
<path d="M630.0 467.0 L860.0 435.0 L1124.0 395.0 L1300.0 372.0" fill="none" stroke="#1d3a48" stroke-width="1.6" stroke-opacity="0.85" stroke-linejoin="round" stroke-linecap="round" />
<path d="M550.0 502.0 L1100.0 445.0 L1315.0 422.0 L1477.0 346.0 L1627.0 412.0 L1535.0 455.0 L1405.0 487.0" fill="none" stroke="#1d3a48" stroke-width="2.1" stroke-opacity="0.85" stroke-linejoin="round" stroke-linecap="round" />
<path d="M550.0 502.0 L630.0 600.0 L1100.0 535.0 L1240.0 512.0 L1405.0 487.0" fill="none" stroke="#1d3a48" stroke-width="2.6" stroke-opacity="0.85" stroke-linejoin="round" stroke-linecap="round" />
<path d="M633.0 613.0 L1100.0 546.0 L1240.0 523.0 L1450.0 495.0" fill="none" stroke="#1d3a48" stroke-width="2.2" stroke-opacity="0.85" stroke-linejoin="round" stroke-linecap="round" />
<path d="M555.0 508.0 L633.0 606.0 L1100.0 540.0 L1240.0 517.0" fill="none" stroke="#1d3a48" stroke-width="1.5" stroke-opacity="0.85" stroke-linejoin="round" stroke-linecap="round" />
<path d="M1315.0 422.0 L1405.0 487.0" fill="none" stroke="#1d3a48" stroke-width="1.4" stroke-opacity="0.85" stroke-linejoin="round" stroke-linecap="round" />
<path d="M677.0 605.0 L672.0 637.0 L730.0 707.0 L1124.0 612.0 L1235.0 585.0 L1307.0 528.0 L1430.0 507.0 L1460.0 527.0 L1493.0 512.0 L1533.0 455.0 L1573.0 473.0 L1577.0 440.0" fill="none" stroke="#1d3a48" stroke-width="2.0" stroke-opacity="0.85" stroke-linejoin="round" stroke-linecap="round" />
<path d="M1477.0 380.0 L1525.0 410.0 L1567.0 427.0" fill="none" stroke="#1d3a48" stroke-width="1" stroke-opacity="0.85" stroke-linejoin="round" stroke-linecap="round" />
<path d="M1240.0 523.0 L1235.0 585.0" fill="none" stroke="#1d3a48" stroke-width="1.3" stroke-opacity="0.85" stroke-linejoin="round" stroke-linecap="round" />
<path d="M722.0 600.0 L724.0 640.0 L735.0 700.0" fill="none" stroke="#1d3a48" stroke-width="1.2" stroke-opacity="0.85" stroke-linejoin="round" stroke-linecap="round" />
</g><g filter="url(#wob3)" opacity="0.55" transform="translate(1.5,2)">
<path d="M514.0 356.0 L1214.0 280.0 L1350.0 340.0" fill="none" stroke="#1d3a48" stroke-width="2.0" stroke-opacity="0.85" stroke-linejoin="round" stroke-linecap="round" />
<path d="M514.0 356.0 L591.0 446.0 L598.0 492.0" fill="none" stroke="#1d3a48" stroke-width="2.0" stroke-opacity="0.85" stroke-linejoin="round" stroke-linecap="round" />
<path d="M514.0 356.0 L522.0 422.0 L550.0 502.0" fill="none" stroke="#1d3a48" stroke-width="2.0" stroke-opacity="0.85" stroke-linejoin="round" stroke-linecap="round" />
<path d="M591.0 446.0 L830.0 412.0 L1124.0 372.0 L1340.0 345.0" fill="none" stroke="#1d3a48" stroke-width="1.9" stroke-opacity="0.85" stroke-linejoin="round" stroke-linecap="round" />
<path d="M630.0 467.0 L860.0 435.0 L1124.0 395.0 L1300.0 372.0" fill="none" stroke="#1d3a48" stroke-width="1.6" stroke-opacity="0.85" stroke-linejoin="round" stroke-linecap="round" />
<path d="M550.0 502.0 L1100.0 445.0 L1315.0 422.0 L1477.0 346.0 L1627.0 412.0 L1535.0 455.0 L1405.0 487.0" fill="none" stroke="#1d3a48" stroke-width="2.1" stroke-opacity="0.85" stroke-linejoin="round" stroke-linecap="round" />
<path d="M550.0 502.0 L630.0 600.0 L1100.0 535.0 L1240.0 512.0 L1405.0 487.0" fill="none" stroke="#1d3a48" stroke-width="2.6" stroke-opacity="0.85" stroke-linejoin="round" stroke-linecap="round" />
<path d="M633.0 613.0 L1100.0 546.0 L1240.0 523.0 L1450.0 495.0" fill="none" stroke="#1d3a48" stroke-width="2.2" stroke-opacity="0.85" stroke-linejoin="round" stroke-linecap="round" />
<path d="M555.0 508.0 L633.0 606.0 L1100.0 540.0 L1240.0 517.0" fill="none" stroke="#1d3a48" stroke-width="1.5" stroke-opacity="0.85" stroke-linejoin="round" stroke-linecap="round" />
<path d="M1315.0 422.0 L1405.0 487.0" fill="none" stroke="#1d3a48" stroke-width="1.4" stroke-opacity="0.85" stroke-linejoin="round" stroke-linecap="round" />
<path d="M677.0 605.0 L672.0 637.0 L730.0 707.0 L1124.0 612.0 L1235.0 585.0 L1307.0 528.0 L1430.0 507.0 L1460.0 527.0 L1493.0 512.0 L1533.0 455.0 L1573.0 473.0 L1577.0 440.0" fill="none" stroke="#1d3a48" stroke-width="2.0" stroke-opacity="0.85" stroke-linejoin="round" stroke-linecap="round" />
<path d="M1477.0 380.0 L1525.0 410.0 L1567.0 427.0" fill="none" stroke="#1d3a48" stroke-width="1" stroke-opacity="0.85" stroke-linejoin="round" stroke-linecap="round" />
<path d="M1240.0 523.0 L1235.0 585.0" fill="none" stroke="#1d3a48" stroke-width="1.3" stroke-opacity="0.85" stroke-linejoin="round" stroke-linecap="round" />
<path d="M722.0 600.0 L724.0 640.0 L735.0 700.0" fill="none" stroke="#1d3a48" stroke-width="1.2" stroke-opacity="0.85" stroke-linejoin="round" stroke-linecap="round" />
</g><g filter="url(#wob2)">
<path d="M165.0 492.0 L190.0 475.0 L335.0 450.0 L400.0 442.0 L487.0 445.0 L492.0 485.0 L515.0 535.0 L542.0 572.0 L515.0 580.0 L520.0 595.0 L565.0 635.0 L627.0 700.0 L710.0 725.0 L772.0 730.0 L860.0 722.0 L970.0 700.0 L1000.0 683.0 L1022.0 666.0 L1061.0 638.0 L1153.0 613.0 L1230.0 593.0 L1300.0 575.0 L1375.0 556.0 L1312.0 590.0 L1307.0 598.0 L1363.0 604.0 L1363.0 621.0 L1335.0 640.0 L1280.0 668.0" fill="none" stroke="#33402a" stroke-width="1.4" stroke-opacity="0.8" stroke-linejoin="round" stroke-linecap="round" />
<path d="M520.0 600.0 L565.0 642.0 L627.0 712.0 L710.0 737.0 L772.0 742.0 L860.0 734.0 L970.0 712.0 L1005.0 692.0 L1030.0 672.0 L1061.0 648.0 L1153.0 622.0 L1236.0 609.0 L1143.0 720.0" fill="none" stroke="#33402a" stroke-width="1.2" stroke-opacity="0.8" stroke-linejoin="round" stroke-linecap="round" />
<path d="M165.0 492.0 L172.0 535.0 L194.0 620.0 L230.0 710.0 L250.0 792.0 L262.0 816.0 L350.0 840.0 L500.0 867.0 L560.0 875.0 L640.0 892.0 L691.0 906.0 L732.0 917.0 L783.0 922.0 L844.0 910.0 L895.0 885.0 L946.0 855.0 L1007.0 820.0 L1040.0 804.0 L1075.0 783.0 L1122.0 752.0 L1204.0 710.0 L1300.0 650.0" fill="none" stroke="#33402a" stroke-width="1.4" stroke-opacity="0.8" stroke-linejoin="round" stroke-linecap="round" />
<path d="M359.0 667.0 L500.0 590.0" fill="none" stroke="#33402a" stroke-width="1.1" stroke-opacity="0.8" stroke-linejoin="round" stroke-linecap="round" />
<path d="M359.0 667.0 L400.0 727.0 L440.0 770.0" fill="none" stroke="#33402a" stroke-width="1.1" stroke-opacity="0.8" stroke-linejoin="round" stroke-linecap="round" />
<path d="M372.0 716.0 L411.0 760.0 L472.0 806.0 L555.0 847.0 L659.0 868.0 L760.0 877.0" fill="none" stroke="#33402a" stroke-width="1.2" stroke-opacity="0.8" stroke-linejoin="round" stroke-linecap="round" />
<path d="M380.0 708.0 L419.0 751.0 L480.0 796.0 L560.0 837.0 L659.0 858.0 L760.0 867.0 L850.0 863.0" fill="none" stroke="#33402a" stroke-width="1.2" stroke-opacity="0.8" stroke-linejoin="round" stroke-linecap="round" />
<path d="M270.0 772.0 L350.0 790.0 L500.0 818.0 L560.0 838.0 L640.0 851.0 L701.0 859.0 L762.0 863.0 L823.0 859.0 L884.0 847.0 L954.0 835.0" fill="none" stroke="#33402a" stroke-width="1.3" stroke-opacity="0.8" stroke-linejoin="round" stroke-linecap="round" />
<path d="M560.0 850.0 L640.0 861.0 L732.0 871.0 L823.0 869.0 L895.0 859.0 L954.0 839.0" fill="none" stroke="#33402a" stroke-width="1.1" stroke-opacity="0.8" stroke-linejoin="round" stroke-linecap="round" />
<path d="M500.0 858.0 L560.0 866.0 L640.0 881.0 L721.0 900.0 L783.0 908.0 L844.0 898.0 L905.0 875.0 L986.0 826.0 L1040.0 800.0 L1100.0 765.0" fill="none" stroke="#33402a" stroke-width="1.2" stroke-opacity="0.8" stroke-linejoin="round" stroke-linecap="round" />
<path d="M1402.0 647.0 L1433.0 625.0 L1493.0 587.0 L1520.0 578.0 L1537.0 558.0 L1533.0 550.0 L1557.0 540.0 L1597.0 520.0 L1613.0 505.0 L1660.0 503.0" fill="none" stroke="#33402a" stroke-width="1.2" stroke-opacity="0.8" stroke-linejoin="round" stroke-linecap="round" />
<path d="M1018.0 887.0 L1141.0 811.0 L1204.0 772.0 L1294.0 716.0 L1340.0 688.0 L1400.0 650.0" fill="none" stroke="#33402a" stroke-width="1.1" stroke-opacity="0.8" stroke-linejoin="round" stroke-linecap="round" />
<path d="M1018.0 887.0 L1100.0 878.0 L1188.0 866.0 L1288.0 852.0 L1400.0 837.0 L1532.0 817.0 L1527.0 795.0 L1537.0 785.0" fill="none" stroke="#33402a" stroke-width="1.1" stroke-opacity="0.8" stroke-linejoin="round" stroke-linecap="round" />
<path d="M125.0 485.0 L127.0 525.0 L150.0 600.0 L170.0 680.0 L185.0 742.0 L215.0 817.0 L222.0 857.0 L245.0 942.0 L255.0 982.0" fill="none" stroke="#3c3c3c" stroke-width="1.3" stroke-opacity="0.55" stroke-linejoin="round" stroke-linecap="round" />
<path d="M125.0 485.0 L140.0 455.0 L175.0 440.0" fill="none" stroke="#3c3c3c" stroke-width="1.3" stroke-opacity="0.55" stroke-linejoin="round" stroke-linecap="round" />
<path d="M549.0 769.0 L563.0 764.0 L584.0 775.0 L609.0 747.0 L633.0 788.0 L637.0 791.0 L698.0 782.0 L709.0 780.0 L706.0 831.0 L694.0 833.0 L637.0 839.0 L593.0 826.0 L565.0 804.0 L552.0 799.0Z" fill="none" stroke="#3c3c3c" stroke-width="1.5" stroke-opacity="0.8" stroke-linejoin="round" stroke-linecap="round" />
<path d="M698.0 782.0 L703.0 832.0" fill="none" stroke="#3c3c3c" stroke-width="1.2" stroke-opacity="0.8" stroke-linejoin="round" stroke-linecap="round" />
<path d="M175.0 402.0 L67.0 420.0 L70.0 403.0 L10.0 440.0 L90.0 497.0 L75.0 462.0 L170.0 445.0" fill="none" stroke="#3c3c3c" stroke-width="1.1" stroke-opacity="0.5" stroke-linejoin="round" stroke-linecap="round" />
<path d="M245.0 327.0 L172.0 327.0 L142.0 375.0 L175.0 370.0" fill="none" stroke="#3c3c3c" stroke-width="1.1" stroke-opacity="0.5" stroke-linejoin="round" stroke-linecap="round" />
<path d="M245.0 327.0 L300.0 315.0 L380.0 325.0 L500.0 320.0 L650.0 315.0 L690.0 300.0 L770.0 285.0 L800.0 287.0 L1000.0 280.0 L1080.0 273.0 L1202.0 258.0 L1252.0 234.0 L1334.0 248.0 L1380.0 242.0 L1412.0 231.0 L1460.0 250.0 L1600.0 292.0 L1744.0 345.0 L1944.0 400.0 L2144.0 470.0 L2184.0 485.0 L2315.0 600.0 L2422.0 677.0" fill="none" stroke="#3c3c3c" stroke-width="1.2" stroke-opacity="0.55" stroke-linejoin="round" stroke-linecap="round" />
<path d="M275.0 352.0 L400.0 345.0 L510.0 338.0" fill="none" stroke="#3c3c3c" stroke-width="1.1" stroke-opacity="0.5" stroke-linejoin="round" stroke-linecap="round" />
<path d="M310.0 392.0 L420.0 382.0 L512.0 372.0" fill="none" stroke="#3c3c3c" stroke-width="1.1" stroke-opacity="0.5" stroke-linejoin="round" stroke-linecap="round" />
<path d="M335.0 432.0 L450.0 422.0 L520.0 412.0" fill="none" stroke="#3c3c3c" stroke-width="1.2" stroke-opacity="0.5" stroke-linejoin="round" stroke-linecap="round" />
<path d="M1460.0 320.0 L1630.0 365.0 L1744.0 415.0 L1860.0 432.0 L2029.0 432.0 L2144.0 467.0 L2185.0 600.0 L2250.0 645.0 L2340.0 685.0 L2420.0 710.0" fill="none" stroke="#3c3c3c" stroke-width="1.2" stroke-opacity="0.6" stroke-linejoin="round" stroke-linecap="round" />
<path d="M1350.0 340.0 L1347.0 370.0 L1380.0 370.0 L1405.0 377.0" fill="none" stroke="#3c3c3c" stroke-width="1.3" stroke-opacity="0.6" stroke-linejoin="round" stroke-linecap="round" />
<path d="M1420.0 372.0 L1407.0 355.0 L1392.0 360.0 L1385.0 310.0 L1472.0 300.0 L1460.0 320.0" fill="none" stroke="#3c3c3c" stroke-width="1.3" stroke-opacity="0.5" stroke-linejoin="round" stroke-linecap="round" />
<path d="M2149.0 647.0 L2311.0 722.0 L2314.0 735.0 L2294.0 745.0" fill="none" stroke="#3c3c3c" stroke-width="1.3" stroke-opacity="0.6" stroke-linejoin="round" stroke-linecap="round" />
<path d="M1112.0 1060.0 L1300.0 1012.0 L1462.0 952.0 L1612.0 924.0 L1887.0 865.0 L2075.0 845.0 L2335.0 797.0 L2410.0 792.0" fill="none" stroke="#3c3c3c" stroke-width="1.1" stroke-opacity="0.5" stroke-linejoin="round" stroke-linecap="round" />
<path d="M2305.0 817.0 L2150.0 860.0 L2075.0 900.0 L1957.0 927.0 L1787.0 964.0 L1602.0 992.0 L1312.0 1042.0 L1112.0 1082.0 L900.0 1120.0 L724.0 1152.0" fill="none" stroke="#3c3c3c" stroke-width="1.2" stroke-opacity="0.6" stroke-linejoin="round" stroke-linecap="round" />
<path d="M644.0 1152.0 L1288.0 1029.0" fill="none" stroke="#3c3c3c" stroke-width="1.1" stroke-opacity="0.5" stroke-linejoin="round" stroke-linecap="round" />
<path d="M242.0 950.0 L82.0 1035.0 L132.0 1220.0 L162.0 1172.0 L400.0 1195.0 L600.0 1160.0 L850.0 1115.0 L1288.0 1050.0" fill="none" stroke="#3c3c3c" stroke-width="1.2" stroke-opacity="0.55" stroke-linejoin="round" stroke-linecap="round" />
<path d="M242.0 950.0 L207.0 1005.0 L287.0 1022.0" fill="none" stroke="#3c3c3c" stroke-width="1.2" stroke-opacity="0.55" stroke-linejoin="round" stroke-linecap="round" />
<path d="M320.0 1035.0 L435.0 1027.0 L700.0 985.0 L1288.0 900.0 L1762.0 832.0 L2144.0 778.0 L2300.0 758.0" fill="none" stroke="#3c3c3c" stroke-width="1.2" stroke-opacity="0.55" stroke-linejoin="round" stroke-linecap="round" />
</g>
<g filter="url(#wob2)">
<path d="M272.0 837.0 L350.0 849.0 L500.0 874.0 L644.0 900.0 L687.0 912.0 L732.0 922.0 L783.0 930.0 L823.0 927.0 L864.0 914.0 L905.0 892.0 L956.0 861.0 L1017.0 826.0 L1085.0 789.0 L1204.0 721.0 L1255.0 692.0" fill="none" stroke="#5b5640" stroke-width="2.4" stroke-opacity="0.85" stroke-linejoin="round" stroke-linecap="round" stroke-dasharray="20 11"/>
<path d="M1255.0 692.0 L1320.0 650.0 L1346.0 631.0" fill="none" stroke="#5a2a18" stroke-width="1.3" stroke-opacity="0.7" stroke-linejoin="round" stroke-linecap="round" />
<path d="M282.0 869.0 L350.0 887.0 L415.0 912.0 L475.0 942.0 L479.0 950.0 L470.0 956.0 L440.0 957.0 L375.0 951.0 L347.0 944.0" fill="none" stroke="#5b5640" stroke-width="2.4" stroke-opacity="0.85" stroke-linejoin="round" stroke-linecap="round" stroke-dasharray="20 11"/>
<path d="M320.0 1014.0 L400.0 1016.0 L500.0 1002.0 L644.0 982.0 L689.0 974.0 L794.0 957.0 L944.0 939.0 L1094.0 917.0 L1288.0 889.0 L1412.0 870.0 L1762.0 820.0 L2144.0 765.0 L2294.0 745.0" fill="none" stroke="#5b5640" stroke-width="2.4" stroke-opacity="0.85" stroke-linejoin="round" stroke-linecap="round" stroke-dasharray="20 11"/>
<path d="M1353.0 668.0 L1280.0 713.0 L1204.0 759.0 L1092.0 830.0 L1035.0 865.0 L1002.0 885.0 L1004.0 897.0 L1110.0 894.0 L1204.0 880.0 L1288.0 862.0 L1412.0 847.0 L1762.0 797.0 L2094.0 750.0 L2251.0 730.0 L2254.0 720.0 L2141.0 660.0" fill="none" stroke="#5b5640" stroke-width="2.4" stroke-opacity="0.85" stroke-linejoin="round" stroke-linecap="round" stroke-dasharray="20 11"/>
<path d="M272.0 837.0 L265.0 824.0 L226.0 851.0 L287.0 894.0 L282.0 869.0" fill="none" stroke="#3c3c3c" stroke-width="1.5" stroke-opacity="0.8" stroke-linejoin="round" stroke-linecap="round" />
<path d="M347.0 944.0 L359.0 917.0 L263.0 973.0 L308.0 1039.0 L320.0 1014.0" fill="none" stroke="#3c3c3c" stroke-width="1.5" stroke-opacity="0.8" stroke-linejoin="round" stroke-linecap="round" />
<path d="M1346.0 631.0 L1373.0 617.0 L1375.0 597.0 L1320.0 592.0 L1395.0 552.0 L1473.0 583.0 L1418.0 587.0 L1417.0 613.0 L1397.0 637.0 L1353.0 663.0" fill="none" stroke="#5a2a18" stroke-width="1.3" stroke-opacity="0.7" stroke-linejoin="round" stroke-linecap="round" />
<path d="M1737.0 520.0 L1715.0 525.0 L1667.0 505.0 L1647.0 497.0 L1613.0 495.0 L1580.0 500.0 L1593.0 515.0 L1507.0 507.0 L1535.0 467.0 L1557.0 478.0 L1597.0 473.0 L1647.0 477.0 L1673.0 487.0 L1710.0 498.0 L1744.0 503.0" fill="none" stroke="#5a2a18" stroke-width="1.3" stroke-opacity="0.7" stroke-linejoin="round" stroke-linecap="round" />
</g>
<g filter="url(#wobT)">
<path d="M232.0 286.0 L242.0 310.0 L245.0 335.0 L255.0 347.0 L260.0 330.0 L272.0 327.0 L274.0 392.0 L287.0 385.0 L299.0 352.0 L302.0 375.0 L310.0 400.0 L306.0 445.0 L299.0 451.0 L320.0 450.0 L326.0 427.0 L334.0 440.0 L331.0 470.0 L337.0 500.0 L322.0 515.0 L330.0 535.0 L306.0 550.0 L325.0 560.0 L315.0 580.0 L341.0 592.0 L315.0 620.0 L330.0 630.0 L310.0 645.0 L320.0 660.0 L300.0 675.0 L320.0 685.0 L300.0 705.0 L315.0 715.0 L307.0 730.0 L295.0 735.0 L287.0 742.0 L282.0 752.0 L273.0 756.0 L272.0 742.0 L260.0 730.0 L270.0 715.0 L252.0 705.0 L260.0 685.0 L247.0 675.0 L250.0 650.0 L229.0 635.0 L235.0 590.0 L217.0 595.0 L220.0 535.0 L201.0 545.0 L205.0 505.0 L192.0 492.0 L196.0 470.0 L172.0 450.0 L165.0 422.0 L185.0 415.0 L177.0 400.0 L197.0 390.0 L189.0 375.0 L207.0 355.0 L200.0 345.0 L220.0 325.0 L227.0 307.0Z" fill="#44803a" />
</g>
<g filter="url(#soft2)" opacity="0.5">
<path d="M262.0 420.0 L300.0 420.0 L320.0 520.0 L300.0 660.0 L280.0 700.0 L262.0 600.0 L240.0 520.0Z" fill="#79a850" />
</g>
<g filter="url(#wobT)">
<path d="M1505.0 739.0 L1530.0 712.0 L1540.0 699.0 L1525.0 686.0 L1555.0 664.0 L1547.0 645.0 L1557.0 627.0 L1570.0 600.0 L1580.0 567.0 L1593.0 540.0 L1605.0 537.0 L1608.0 597.0 L1617.0 607.0 L1633.0 567.0 L1660.0 513.0 L1688.0 468.0 L1700.0 477.0 L1703.0 500.0 L1693.0 540.0 L1688.0 580.0 L1693.0 587.0 L1710.0 557.0 L1712.0 530.0 L1727.0 535.0 L1752.0 485.0 L1774.0 450.0 L1787.0 485.0 L1812.0 520.0 L1832.0 575.0 L1840.0 550.0 L1857.0 485.0 L1877.0 450.0 L1879.0 418.0 L1885.0 450.0 L1889.0 510.0 L1891.0 565.0 L1909.0 540.0 L1921.0 515.0 L1916.0 500.0 L1934.0 475.0 L1939.0 445.0 L1949.0 435.0 L1960.0 387.0 L1974.0 400.0 L1976.0 445.0 L1969.0 470.0 L1979.0 485.0 L1964.0 500.0 L1974.0 510.0 L1964.0 525.0 L1979.0 530.0 L2004.0 520.0 L2009.0 490.0 L2024.0 470.0 L2021.0 455.0 L2039.0 435.0 L2044.0 425.0 L2061.0 415.0 L2074.0 450.0 L2086.0 480.0 L2079.0 500.0 L2089.0 515.0 L2090.0 535.0 L2099.0 548.0 L2108.0 536.0 L2116.0 520.0 L2129.0 500.0 L2124.0 485.0 L2144.0 480.0 L2159.0 465.0 L2171.0 445.0 L2174.0 447.0 L2184.0 485.0 L2181.0 505.0 L2191.0 515.0 L2179.0 530.0 L2189.0 550.0 L2176.0 565.0 L2184.0 585.0 L2174.0 610.0 L2179.0 625.0 L2164.0 645.0 L2144.0 657.0 L2150.0 670.0 L2130.0 675.0 L2124.0 677.0 L2062.0 695.0 L2027.0 715.0 L2007.0 715.0 L1995.0 702.0 L1985.0 702.0 L1942.0 720.0 L1917.0 712.0 L1908.0 722.0 L1890.0 722.0 L1860.0 730.0 L1832.0 738.0 L1816.0 742.0 L1783.0 745.0 L1765.0 742.0 L1755.0 742.0 L1706.0 730.0 L1690.0 740.0 L1655.0 760.0 L1620.0 747.0 L1606.0 745.0 L1582.0 738.0 L1570.0 735.0 L1562.0 739.0Z" fill="url(#gTree)" />
</g>
<path d="M1570.0 733.0 L1583.0 738.0 L1570.0 805.0 L1557.0 800.0Z" fill="#4c7d33" />
<path d="M1606.0 743.0 L1619.0 745.0 L1611.0 798.0 L1601.0 795.0Z" fill="#4c7d33" />
<path d="M1687.0 738.0 L1706.0 730.0 L1694.0 785.0 L1685.0 783.0Z" fill="#4c7d33" />
<path d="M1765.0 740.0 L1783.0 743.0 L1771.0 778.0 L1761.0 774.0Z" fill="#4c7d33" />
<path d="M1816.0 743.0 L1832.0 738.0 L1826.0 765.0 L1819.0 762.0Z" fill="#4c7d33" />
<path d="M1890.0 723.0 L1908.0 723.0 L1901.0 756.0 L1889.0 757.0Z" fill="#4c7d33" />
<path d="M2007.0 713.0 L2027.0 716.0 L2015.0 739.0 L2006.0 739.0Z" fill="#4c7d33" />
<path d="M2129.0 693.0 L2141.0 680.0 L2131.0 717.0 L2121.0 715.0Z" fill="#4c7d33" />
<clipPath id="cM"><path d="M1505.0 739.0 L1530.0 712.0 L1540.0 699.0 L1525.0 686.0 L1555.0 664.0 L1547.0 645.0 L1557.0 627.0 L1570.0 600.0 L1580.0 567.0 L1593.0 540.0 L1605.0 537.0 L1608.0 597.0 L1617.0 607.0 L1633.0 567.0 L1660.0 513.0 L1688.0 468.0 L1700.0 477.0 L1703.0 500.0 L1693.0 540.0 L1688.0 580.0 L1693.0 587.0 L1710.0 557.0 L1712.0 530.0 L1727.0 535.0 L1752.0 485.0 L1774.0 450.0 L1787.0 485.0 L1812.0 520.0 L1832.0 575.0 L1840.0 550.0 L1857.0 485.0 L1877.0 450.0 L1879.0 418.0 L1885.0 450.0 L1889.0 510.0 L1891.0 565.0 L1909.0 540.0 L1921.0 515.0 L1916.0 500.0 L1934.0 475.0 L1939.0 445.0 L1949.0 435.0 L1960.0 387.0 L1974.0 400.0 L1976.0 445.0 L1969.0 470.0 L1979.0 485.0 L1964.0 500.0 L1974.0 510.0 L1964.0 525.0 L1979.0 530.0 L2004.0 520.0 L2009.0 490.0 L2024.0 470.0 L2021.0 455.0 L2039.0 435.0 L2044.0 425.0 L2061.0 415.0 L2074.0 450.0 L2086.0 480.0 L2079.0 500.0 L2089.0 515.0 L2090.0 535.0 L2099.0 548.0 L2108.0 536.0 L2116.0 520.0 L2129.0 500.0 L2124.0 485.0 L2144.0 480.0 L2159.0 465.0 L2171.0 445.0 L2174.0 447.0 L2184.0 485.0 L2181.0 505.0 L2191.0 515.0 L2179.0 530.0 L2189.0 550.0 L2176.0 565.0 L2184.0 585.0 L2174.0 610.0 L2179.0 625.0 L2164.0 645.0 L2144.0 657.0 L2150.0 670.0 L2130.0 675.0 L2124.0 677.0 L2062.0 695.0 L2027.0 715.0 L2007.0 715.0 L1995.0 702.0 L1985.0 702.0 L1942.0 720.0 L1917.0 712.0 L1908.0 722.0 L1890.0 722.0 L1860.0 730.0 L1832.0 738.0 L1816.0 742.0 L1783.0 745.0 L1765.0 742.0 L1755.0 742.0 L1706.0 730.0 L1690.0 740.0 L1655.0 760.0 L1620.0 747.0 L1606.0 745.0 L1582.0 738.0 L1570.0 735.0 L1562.0 739.0Z"/></clipPath><g clip-path="url(#cM)"><g filter="url(#soft)" opacity="0.4">
<path d="M1750.0 600.0 L1900.0 560.0 L2000.0 640.0 L1850.0 700.0Z" fill="#74a24a" />
<path d="M2120.0 520.0 L2170.0 500.0 L2170.0 640.0 L2120.0 660.0Z" fill="#6a9a45" />
<path d="M1580.0 640.0 L1700.0 600.0 L1720.0 700.0 L1600.0 720.0Z" fill="#6a9a45" />
</g></g>
<g filter="url(#wobT)">
<path d="M232.0 286.0 L242.0 310.0 L245.0 335.0 L255.0 347.0 L260.0 330.0 L272.0 327.0 L274.0 392.0 L287.0 385.0 L299.0 352.0 L302.0 375.0 L310.0 400.0 L306.0 445.0 L299.0 451.0 L320.0 450.0 L326.0 427.0 L334.0 440.0 L331.0 470.0 L337.0 500.0 L322.0 515.0 L330.0 535.0 L306.0 550.0 L325.0 560.0 L315.0 580.0 L341.0 592.0 L315.0 620.0 L330.0 630.0 L310.0 645.0 L320.0 660.0 L300.0 675.0 L320.0 685.0 L300.0 705.0 L315.0 715.0 L307.0 730.0 L295.0 735.0 L287.0 742.0 L282.0 752.0 L273.0 756.0 L272.0 742.0 L260.0 730.0 L270.0 715.0 L252.0 705.0 L260.0 685.0 L247.0 675.0 L250.0 650.0 L229.0 635.0 L235.0 590.0 L217.0 595.0 L220.0 535.0 L201.0 545.0 L205.0 505.0 L192.0 492.0 L196.0 470.0 L172.0 450.0 L165.0 422.0 L185.0 415.0 L177.0 400.0 L197.0 390.0 L189.0 375.0 L207.0 355.0 L200.0 345.0 L220.0 325.0 L227.0 307.0Z" fill="none" stroke="#2f4a28" stroke-width="1.4" stroke-opacity="0.7" stroke-linejoin="round" stroke-linecap="round" />
<path d="M1505.0 739.0 L1530.0 712.0 L1540.0 699.0 L1525.0 686.0 L1555.0 664.0 L1547.0 645.0 L1557.0 627.0 L1570.0 600.0 L1580.0 567.0 L1593.0 540.0 L1605.0 537.0 L1608.0 597.0 L1617.0 607.0 L1633.0 567.0 L1660.0 513.0 L1688.0 468.0 L1700.0 477.0 L1703.0 500.0 L1693.0 540.0 L1688.0 580.0 L1693.0 587.0 L1710.0 557.0 L1712.0 530.0 L1727.0 535.0 L1752.0 485.0 L1774.0 450.0 L1787.0 485.0 L1812.0 520.0 L1832.0 575.0 L1840.0 550.0 L1857.0 485.0 L1877.0 450.0 L1879.0 418.0 L1885.0 450.0 L1889.0 510.0 L1891.0 565.0 L1909.0 540.0 L1921.0 515.0 L1916.0 500.0 L1934.0 475.0 L1939.0 445.0 L1949.0 435.0 L1960.0 387.0 L1974.0 400.0 L1976.0 445.0 L1969.0 470.0 L1979.0 485.0 L1964.0 500.0 L1974.0 510.0 L1964.0 525.0 L1979.0 530.0 L2004.0 520.0 L2009.0 490.0 L2024.0 470.0 L2021.0 455.0 L2039.0 435.0 L2044.0 425.0 L2061.0 415.0 L2074.0 450.0 L2086.0 480.0 L2079.0 500.0 L2089.0 515.0 L2090.0 535.0 L2099.0 548.0 L2108.0 536.0 L2116.0 520.0 L2129.0 500.0 L2124.0 485.0 L2144.0 480.0 L2159.0 465.0 L2171.0 445.0 L2174.0 447.0 L2184.0 485.0 L2181.0 505.0 L2191.0 515.0 L2179.0 530.0 L2189.0 550.0 L2176.0 565.0 L2184.0 585.0 L2174.0 610.0 L2179.0 625.0 L2164.0 645.0 L2144.0 657.0 L2150.0 670.0 L2130.0 675.0 L2124.0 677.0 L2062.0 695.0 L2027.0 715.0 L2007.0 715.0 L1995.0 702.0 L1985.0 702.0 L1942.0 720.0 L1917.0 712.0 L1908.0 722.0 L1890.0 722.0 L1860.0 730.0 L1832.0 738.0 L1816.0 742.0 L1783.0 745.0 L1765.0 742.0 L1755.0 742.0 L1706.0 730.0 L1690.0 740.0 L1655.0 760.0 L1620.0 747.0 L1606.0 745.0 L1582.0 738.0 L1570.0 735.0 L1562.0 739.0Z" fill="none" stroke="#3c5a30" stroke-width="1.2" stroke-opacity="0.6" stroke-linejoin="round" stroke-linecap="round" />
</g><g filter="url(#wob2)">
<path d="M1570.0 733.0 L1583.0 738.0 L1570.0 805.0 L1557.0 800.0Z" fill="none" stroke="#2f4a28" stroke-width="1.1" stroke-opacity="0.7" stroke-linejoin="round" stroke-linecap="round" />
<path d="M1606.0 743.0 L1619.0 745.0 L1611.0 798.0 L1601.0 795.0Z" fill="none" stroke="#2f4a28" stroke-width="1.1" stroke-opacity="0.7" stroke-linejoin="round" stroke-linecap="round" />
<path d="M1687.0 738.0 L1706.0 730.0 L1694.0 785.0 L1685.0 783.0Z" fill="none" stroke="#2f4a28" stroke-width="1.1" stroke-opacity="0.7" stroke-linejoin="round" stroke-linecap="round" />
<path d="M1765.0 740.0 L1783.0 743.0 L1771.0 778.0 L1761.0 774.0Z" fill="none" stroke="#2f4a28" stroke-width="1.1" stroke-opacity="0.7" stroke-linejoin="round" stroke-linecap="round" />
<path d="M1816.0 743.0 L1832.0 738.0 L1826.0 765.0 L1819.0 762.0Z" fill="none" stroke="#2f4a28" stroke-width="1.1" stroke-opacity="0.7" stroke-linejoin="round" stroke-linecap="round" />
<path d="M1890.0 723.0 L1908.0 723.0 L1901.0 756.0 L1889.0 757.0Z" fill="none" stroke="#2f4a28" stroke-width="1.1" stroke-opacity="0.7" stroke-linejoin="round" stroke-linecap="round" />
<path d="M2007.0 713.0 L2027.0 716.0 L2015.0 739.0 L2006.0 739.0Z" fill="none" stroke="#2f4a28" stroke-width="1.1" stroke-opacity="0.7" stroke-linejoin="round" stroke-linecap="round" />
<path d="M2129.0 693.0 L2141.0 680.0 L2131.0 717.0 L2121.0 715.0Z" fill="none" stroke="#2f4a28" stroke-width="1.1" stroke-opacity="0.7" stroke-linejoin="round" stroke-linecap="round" />
</g>
<path d="M2080.0 540.0 L2071.0 552.0 L2081.0 560.0 L2068.0 572.0 L2079.0 582.0 L2067.0 594.0 L2082.0 603.0" fill="none" stroke="#e8ebe8" stroke-width="2.5" stroke-opacity="0.95" stroke-linejoin="round" stroke-linecap="round" />
<path d="M2110.0 540.0 L2104.0 556.0 L2113.0 568.0 L2105.0 584.0 L2111.0 600.0" fill="none" stroke="#e8ebe8" stroke-width="2.5" stroke-opacity="0.95" stroke-linejoin="round" stroke-linecap="round" />
<path d="M2049.0 625.0 L2079.0 610.0 L2106.0 627.0 L2069.0 637.0Z" fill="#f7922d" />
<path d="M2080.0 607.0 L2106.0 621.0" fill="none" stroke="#fdfdfd" stroke-width="2.5" stroke-opacity="1" stroke-linejoin="round" stroke-linecap="round" />
<path d="M2040.0 640.0 L2062.0 630.0 L2068.0 640.0 L2050.0 648.0Z" fill="#a8cf6a" />
<path d="M2049.0 625.0 L2079.0 610.0 L2106.0 627.0 L2069.0 637.0Z" fill="none" stroke="#5a3a18" stroke-width="1.1" stroke-opacity="0.6" stroke-linejoin="round" stroke-linecap="round" />
<path d="M1610.0 540.0 L1630.0 525.0 L1645.0 540.0 L1625.0 585.0 L1618.0 600.0 L1610.0 590.0Z" fill="#a0c866" />
<g filter="url(#wob2)">
<path d="M825.6 1019.6 L815.5 1021.3 L812.1 1028.1 L823.9 1033.1 L839.2 1038.2 L839.2 1045.0 L830.7 1049.3 L818.8 1043.3" fill="none" stroke="#444" stroke-width="1.7" stroke-opacity="0.85" stroke-linejoin="round" stroke-linecap="round" />
<path d="M844.3 1017.0 L865.5 1042.5 L891.5 1008.5 L896.6 1037.4 L906.7 1008.5" fill="none" stroke="#444" stroke-width="1.7" stroke-opacity="0.85" stroke-linejoin="round" stroke-linecap="round" />
<path d="M906.2 1008.5 L921.5 1033.1" fill="none" stroke="#444" stroke-width="1.7" stroke-opacity="0.85" stroke-linejoin="round" stroke-linecap="round" />
<path d="M906.2 1008.5 L925.8 1004.3" fill="none" stroke="#444" stroke-width="1.7" stroke-opacity="0.85" stroke-linejoin="round" stroke-linecap="round" />
<path d="M913.9 1019.6 L930.8 1015.3" fill="none" stroke="#444" stroke-width="1.7" stroke-opacity="0.85" stroke-linejoin="round" stroke-linecap="round" />
<path d="M921.5 1033.1 L941.0 1028.1" fill="none" stroke="#444" stroke-width="1.7" stroke-opacity="0.85" stroke-linejoin="round" stroke-linecap="round" />
<path d="M943.6 1000.1 L958.0 1027.2" fill="none" stroke="#444" stroke-width="1.7" stroke-opacity="0.85" stroke-linejoin="round" stroke-linecap="round" />
<path d="M943.6 1000.1 L965.6 995.0" fill="none" stroke="#444" stroke-width="1.7" stroke-opacity="0.85" stroke-linejoin="round" stroke-linecap="round" />
<path d="M950.4 1013.6 L969.0 1011.1" fill="none" stroke="#444" stroke-width="1.7" stroke-opacity="0.85" stroke-linejoin="round" stroke-linecap="round" />
<path d="M958.0 1027.2 L975.8 1023.8" fill="none" stroke="#444" stroke-width="1.7" stroke-opacity="0.85" stroke-linejoin="round" stroke-linecap="round" />
<path d="M981.8 996.7 L1024.2 983.1" fill="none" stroke="#444" stroke-width="1.7" stroke-opacity="0.85" stroke-linejoin="round" stroke-linecap="round" />
<path d="M996.2 990.7 L1018.2 1017.9" fill="none" stroke="#444" stroke-width="1.7" stroke-opacity="0.85" stroke-linejoin="round" stroke-linecap="round" />
<path d="M1010.6 988.2 L1025.0 983.9 L1022.5 986.5 L1010.6 990.7" fill="none" stroke="#444" stroke-width="1.7" stroke-opacity="0.85" stroke-linejoin="round" stroke-linecap="round" />
<path d="M1054.7 1005.2 L1063.2 975.5 L1095.4 1001.8" fill="none" stroke="#444" stroke-width="1.7" stroke-opacity="0.85" stroke-linejoin="round" stroke-linecap="round" />
<path d="M1054.7 1005.2 L1090.4 995.0" fill="none" stroke="#444" stroke-width="1.7" stroke-opacity="0.85" stroke-linejoin="round" stroke-linecap="round" />
<path d="M1085.3 978.0 L1111.6 998.4 L1110.7 968.7" fill="none" stroke="#444" stroke-width="1.7" stroke-opacity="0.85" stroke-linejoin="round" stroke-linecap="round" />
<path d="M1118.4 971.2 L1137.9 999.2" fill="none" stroke="#444" stroke-width="1.7" stroke-opacity="0.85" stroke-linejoin="round" stroke-linecap="round" />
<path d="M1118.4 971.2 L1136.2 972.9" fill="none" stroke="#444" stroke-width="1.7" stroke-opacity="0.85" stroke-linejoin="round" stroke-linecap="round" />
<path d="M1127.7 983.9 L1146.4 981.4" fill="none" stroke="#444" stroke-width="1.7" stroke-opacity="0.85" stroke-linejoin="round" stroke-linecap="round" />
<path d="M1132.8 996.7 L1158.2 989.0" fill="none" stroke="#444" stroke-width="1.7" stroke-opacity="0.85" stroke-linejoin="round" stroke-linecap="round" />
<path d="M1167.1 990.4 L1168.4 991.1" fill="none" stroke="#444" stroke-width="1.7" stroke-opacity="0.85" stroke-linejoin="round" stroke-linecap="round" />
<path d="M1646.6 433.5 L1658.5 421.1" fill="none" stroke="#666" stroke-width="1.8" stroke-opacity="0.6" stroke-linejoin="round" stroke-linecap="round" />
<path d="M1658.5 421.1 L1669.8 423.4 L1657.3 425.1" fill="none" stroke="#666" stroke-width="1.8" stroke-opacity="0.6" stroke-linejoin="round" stroke-linecap="round" />
<path d="M1664.1 439.2 L1683.3 427.3 L1679.9 445.4" fill="none" stroke="#666" stroke-width="1.8" stroke-opacity="0.6" stroke-linejoin="round" stroke-linecap="round" />
<path d="M1670.9 435.2 L1681.6 437.5" fill="none" stroke="#666" stroke-width="1.8" stroke-opacity="0.6" stroke-linejoin="round" stroke-linecap="round" />
<path d="M1692.4 451.1 L1701.4 435.2" fill="none" stroke="#666" stroke-width="1.8" stroke-opacity="0.6" stroke-linejoin="round" stroke-linecap="round" />
<path d="M1701.4 435.2 L1708.2 438.6 L1698.0 443.2 L1706.0 451.6" fill="none" stroke="#666" stroke-width="1.8" stroke-opacity="0.6" stroke-linejoin="round" stroke-linecap="round" />
<path d="M1720.7 459.6 L1728.6 443.2" fill="none" stroke="#666" stroke-width="1.8" stroke-opacity="0.6" stroke-linejoin="round" stroke-linecap="round" />
<path d="M1738.8 447.7 L1724.0 452.8 L1733.1 460.7" fill="none" stroke="#666" stroke-width="1.8" stroke-opacity="0.6" stroke-linejoin="round" stroke-linecap="round" />
<path d="M1750.1 462.9 L1756.3 447.7" fill="none" stroke="#666" stroke-width="1.8" stroke-opacity="0.6" stroke-linejoin="round" stroke-linecap="round" />
<path d="M1778.3 464.6 L1787.4 453.3 L1799.8 466.9 L1803.2 451.6" fill="none" stroke="#666" stroke-width="1.8" stroke-opacity="0.6" stroke-linejoin="round" stroke-linecap="round" />
<path d="M1830.4 455.6 L1821.3 454.5 L1814.5 461.3 L1820.2 469.2 L1832.6 469.2 L1834.9 464.6 L1828.1 464.1" fill="none" stroke="#666" stroke-width="1.8" stroke-opacity="0.6" stroke-linejoin="round" stroke-linecap="round" />
</g>
</g>

<!-- ===== right side ===== -->
<g id="right">
<!-- visioning box -->
<rect x="1870.7" y="103" width="229.3" height="97.4" fill="#fff" stroke="#d9d9d9" stroke-width="9.3"/>
<text class="vg" transform="translate(1906.4,145.5) scale(0.92,1)" textLength="173.9" lengthAdjust="spacing">Visioning &amp;</text>
<text class="vg" transform="translate(1901.7,176.5) scale(0.92,1)" textLength="186.2" lengthAdjust="spacing">Goal-setting</text>
<path d="M2128.8 149H2349" stroke="#111" stroke-width="1.7" fill="none"/>
<path d="M2328 129.4L2349.5 149L2328 169.5" stroke="#111" stroke-width="1.7" fill="none"/>
<!-- dotted -->
<path d="M1838 148.9H1109.4V322" stroke="#111" stroke-width="1.6" stroke-dasharray="0.01 6.2" stroke-linecap="round" fill="none"/>
<circle cx="1109.4" cy="325.9" r="4" fill="#111"/>

<text class="hd" transform="translate(2440.0,160.0) scale(0.88,1)" textLength="189.8" lengthAdjust="spacing">PROGRAM</text>
<text class="hd" transform="translate(2701.0,160.0) scale(0.88,1)" textLength="258.0" lengthAdjust="spacing">DIAGNOSTICS</text>

<g fill="#fff" stroke="#a9a9ad" stroke-width="1.5">
<rect x="2424" y="208" width="197" height="115" rx="38"/>
<rect x="2424" y="352" width="197" height="115" rx="38"/>
<rect x="2424" y="496.5" width="197" height="115" rx="38"/>
<rect x="2701.5" y="208" width="224" height="115"/>
<rect x="2701.5" y="352" width="224" height="115"/>
<rect x="2701.5" y="496.5" width="224" height="115"/>
</g>
<text class="lb" transform="translate(2487.5,256.8) scale(0.92,1)" textLength="75.3" lengthAdjust="spacing">Yield</text>
<text class="lb" transform="translate(2462.8,288.3) scale(0.92,1)" textLength="127.9" lengthAdjust="spacing">Analysis</text>
<text class="lb" transform="translate(2752.9,256.8) scale(0.92,1)" textLength="127.3" lengthAdjust="spacing">Upgrade</text>
<text class="lb" transform="translate(2745.4,288.3) scale(0.92,1)" textLength="142.8" lengthAdjust="spacing">Priorities</text>
<text class="lb" transform="translate(2462.8,402.3) scale(0.92,1)" textLength="128.4" lengthAdjust="spacing">Capacity</text>
<text class="lb" transform="translate(2470.2,432.8) scale(0.92,1)" textLength="112.9" lengthAdjust="spacing">Studies</text>
<text class="lb" transform="translate(2754.6,385.3) scale(0.92,1)" textLength="126.5" lengthAdjust="spacing">Systems</text>
<text class="lb" transform="translate(2748.8,417.5) scale(0.92,1)" textLength="149.0" lengthAdjust="spacing">Life-Cycle</text>
<text class="lb" transform="translate(2752.9,448.1) scale(0.92,1)" textLength="129.1" lengthAdjust="spacing">Analysis</text>
<text class="lb" transform="translate(2449.9,546.2) scale(0.92,1)" textLength="156.0" lengthAdjust="spacing">Statement</text>
<text class="lb" transform="translate(2473.0,577.7) scale(0.92,1)" textLength="114.2" lengthAdjust="spacing">of Need</text>
<text class="lb" transform="translate(2764.1,546.2) scale(0.92,1)" textLength="102.2" lengthAdjust="spacing">Impact</text>
<text class="lb" transform="translate(2771.6,576.7) scale(0.92,1)" textLength="85.9" lengthAdjust="spacing">Study</text>
<g stroke="#111" stroke-width="1.7" fill="none">
<path d="M2649.4 245.2L2670.8 264.6L2649.4 284.3"/>
<path d="M2670.4 535.6L2649.4 555L2670.4 574.7"/>
<path d="M2935.5 264.6H3026.5"/>
<path d="M3005.6 245L3026.9 264.4L3005.6 283.8"/>
</g>

<!-- Diagram A -->
<g stroke="#808080" stroke-width="2" fill="#fff" stroke-linejoin="miter">
<path d="M3048.9 230.1H3098.6V187.1L3187.1 186.4V433.2H3062.4V310H3048.9Z"/>
<path d="M3288.3 230.1H3474.2V311.9H3504.9V433.2H3288.3Z"/>
</g>
<path d="M3057.1 238.3H3106.4V194.6H3178.9V301.8H3057.1Z" fill="#969696"/>
<rect x="3070.9" y="310.4" width="108" height="115" fill="#c1d0d6"/>
<rect x="3202" y="161" width="70.2" height="267.8" fill="#ffde00"/>
<rect x="3196.8" y="155.8" width="81.4" height="277.8" fill="none" stroke="#d9232e" stroke-width="2.5" stroke-dasharray="10 6.3"/>
<rect x="3297.6" y="237.9" width="167.3" height="71.7" fill="#f8d3be"/>
<rect x="3297.6" y="319.3" width="199" height="106.1" fill="#c1d0d6"/>
<text class="ab" x="3035" y="427.6">A</text>

<!-- Diagram B -->
<path d="M3048.9 586.3H3474.2V664.8H3504.9V792.1H3062.4V665.5H3048.9Z" stroke="#808080" stroke-width="2" fill="#fff"/>
<rect x="3057.1" y="594.6" width="123.6" height="63.1" fill="#969696"/>
<rect x="3070.9" y="666.3" width="109.8" height="117.6" fill="#c1d0d6"/>
<rect x="3187.8" y="594.6" width="100.8" height="189.3" fill="#ffde00"/>
<rect x="3295.7" y="594.6" width="169.2" height="70.9" fill="#f8d3be"/>
<rect x="3295.7" y="674.5" width="200.9" height="109.4" fill="#c1d0d6"/>
<path d="M3112.8 527H3191.9V555.7H3239.7V527H3486.2V570.3H3112.8Z" fill="#ffde00"/>
<path d="M3107.5 522.1H3196.8V550.5H3236V522.1H3491.4V575.9H3107.5Z" fill="none" stroke="#d9232e" stroke-width="2.5" stroke-dasharray="10 6.3"/>
<text class="ab" x="3035" y="788.7">B</text>

<!-- Diagram C -->
<path d="M3048.9 937.1H3098.6V885.2L3165.4 884.5V870.6H3213.2V929.6H3474.2V1014.4H3504.9V1140.6H3062.4V1018.9H3048.9Z" stroke="#808080" stroke-width="2" fill="#fff"/>
<path d="M3057.9 944.9H3106.8V893H3163.9V1011.4H3057.9Z" fill="#f8d3be"/>
<rect x="3171" y="944.2" width="117.6" height="67.2" fill="#ffde00"/>
<rect x="3295.4" y="944.2" width="168.4" height="67.2" fill="#ffde00"/>
<rect x="3071.7" y="1023" width="106" height="109" fill="#c1d0d6"/>
<rect x="3186" y="1023" width="102.3" height="109" fill="#969696"/>
<rect x="3295.7" y="1023" width="200.9" height="109" fill="#c1d0d6"/>
<rect x="3228.5" y="871" width="257.3" height="43.3" fill="#f8d3be"/>
<rect x="3222.9" y="865.8" width="268.9" height="54.1" fill="none" stroke="#d9232e" stroke-width="2.5" stroke-dasharray="10 6.3"/>
<text class="ab" x="3035" y="1138.7">C</text>
</g>
</svg>
</body></html>
